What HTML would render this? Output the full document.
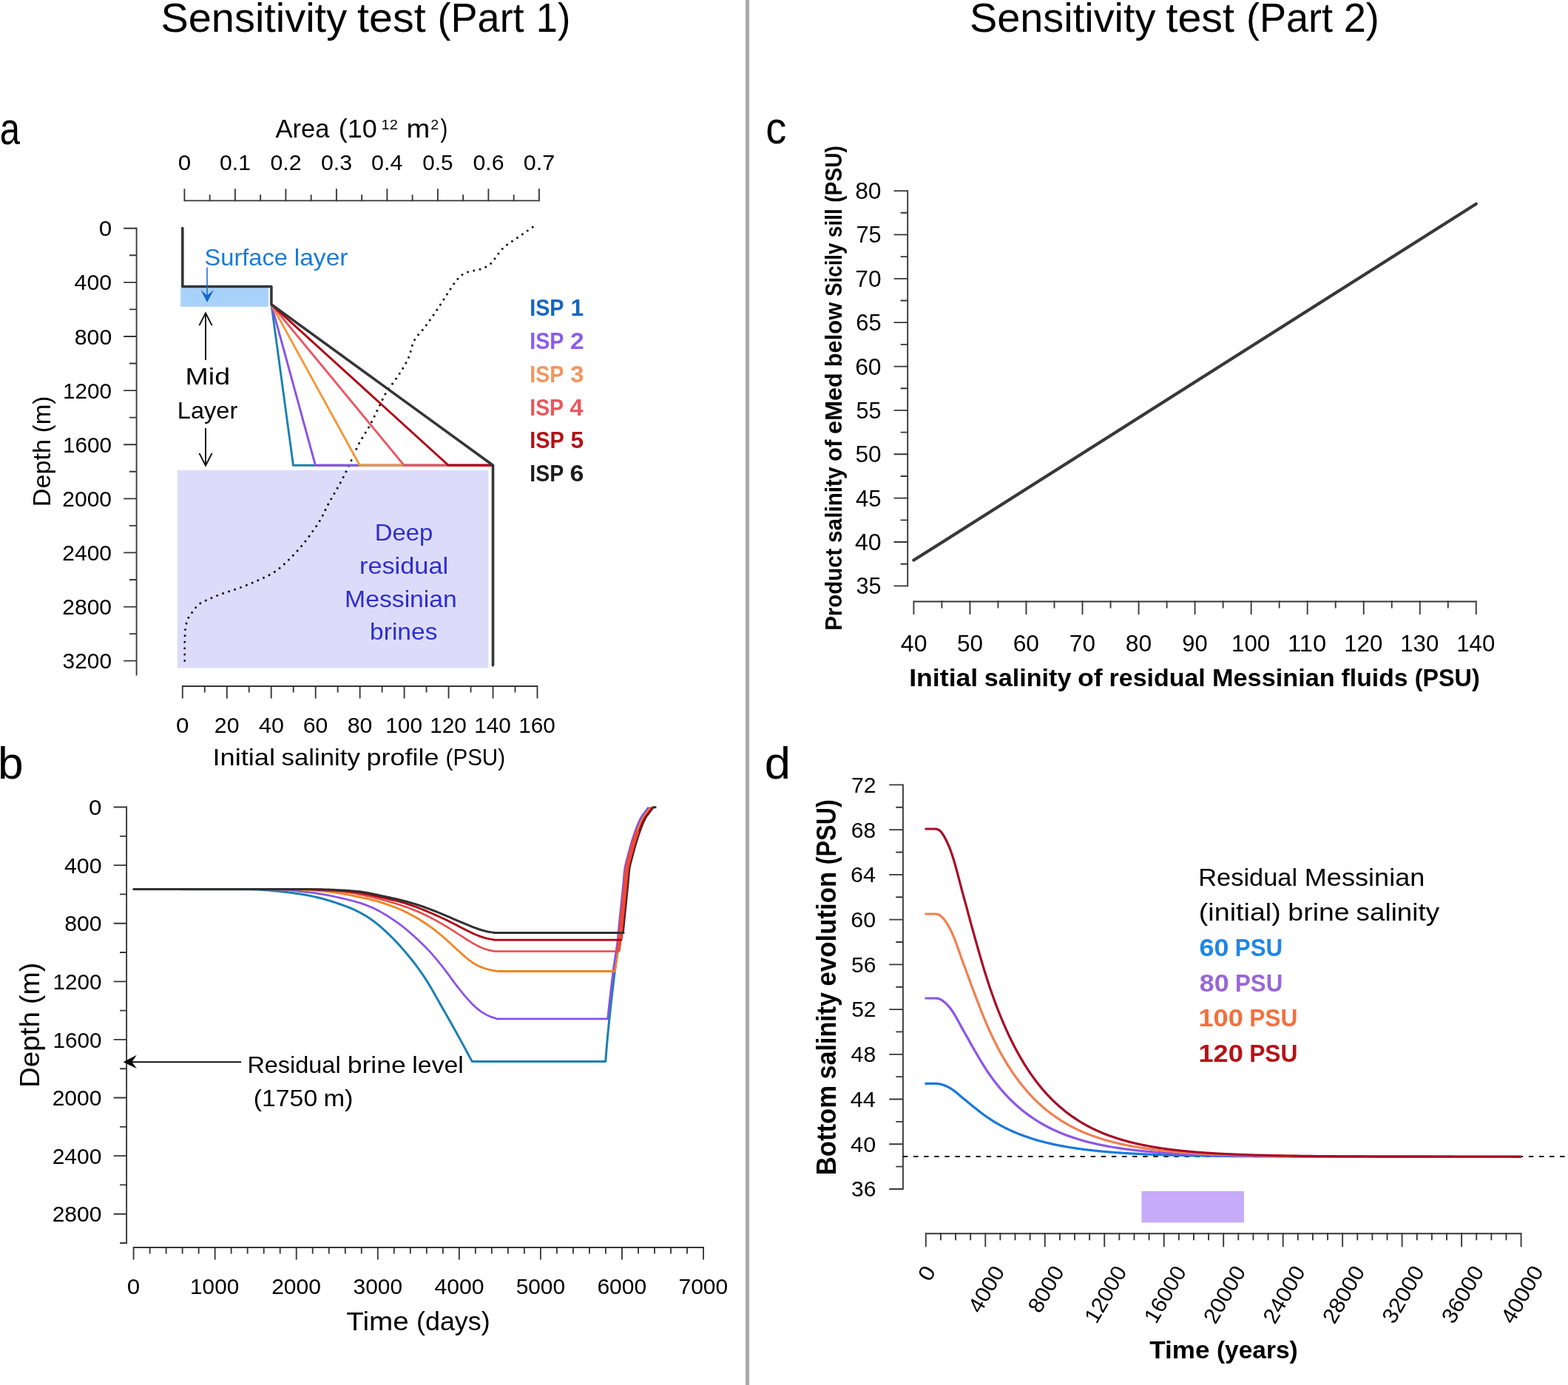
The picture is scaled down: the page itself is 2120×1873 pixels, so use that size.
<!DOCTYPE html>
<html lang="en">
<head>
<meta charset="utf-8">
<title>Sensitivity test</title>
<style>html,body{margin:0;padding:0;background:#fff}svg{display:block}</style>
</head>
<body>
<svg width="2120" height="1873" viewBox="0 0 2120 1873" font-family="'Liberation Sans', sans-serif" role="img" aria-label="Sensitivity test figure">
<rect width="2120" height="1873" fill="#fff"/>
<rect x="1008" y="0" width="5" height="1873" fill="#a9a9a9"/>
<text x="217.48" y="43.4" font-size="56.24" textLength="251.64" lengthAdjust="spacingAndGlyphs" fill="#000">Sensitivity</text>
<text x="483.11" y="43.4" font-size="56.24" textLength="92.48" lengthAdjust="spacingAndGlyphs" fill="#000">test</text>
<text x="591.59" y="43.4" font-size="56.24" textLength="117.06" lengthAdjust="spacingAndGlyphs" fill="#000">(Part</text>
<text x="724.85" y="43.4" font-size="56.24" textLength="46.51" lengthAdjust="spacingAndGlyphs" fill="#000">1)</text>
<text x="1310.88" y="43.4" font-size="56.24" textLength="251.64" lengthAdjust="spacingAndGlyphs" fill="#000">Sensitivity</text>
<text x="1576.51" y="43.4" font-size="56.24" textLength="92.48" lengthAdjust="spacingAndGlyphs" fill="#000">test</text>
<text x="1684.99" y="43.4" font-size="56.24" textLength="117.06" lengthAdjust="spacingAndGlyphs" fill="#000">(Part</text>
<text x="1816.73" y="43.4" font-size="56.24" textLength="48.15" lengthAdjust="spacingAndGlyphs" fill="#000">2)</text>
<text x="-0.21" y="194.6" font-size="61.2" textLength="27.26" lengthAdjust="spacingAndGlyphs" fill="#000">a</text>
<text x="-3.04" y="1053.4" font-size="61.2" textLength="34.61" lengthAdjust="spacingAndGlyphs" fill="#000">b</text>
<text x="1035.27" y="194" font-size="60.52" textLength="28.14" lengthAdjust="spacingAndGlyphs" fill="#000">c</text>
<text x="1033.77" y="1053.2" font-size="61.2" textLength="35.22" lengthAdjust="spacingAndGlyphs" fill="#000">d</text>
<line x1="249.4" y1="271.3" x2="728.9" y2="271.3" stroke="#363636" stroke-width="1.85"/>
<path d="M249.4,272.23L249.4,255.3M283.65,272.23L283.65,263.3M317.9,272.23L317.9,255.3M352.15,272.23L352.15,263.3M386.4,272.23L386.4,255.3M420.65,272.23L420.65,263.3M454.9,272.23L454.9,255.3M489.15,272.23L489.15,263.3M523.4,272.23L523.4,255.3M557.65,272.23L557.65,263.3M591.9,272.23L591.9,255.3M626.15,272.23L626.15,263.3M660.4,272.23L660.4,255.3M694.65,272.23L694.65,263.3M728.9,272.23L728.9,255.3" fill="none" stroke="#363636" stroke-width="1.85"/>
<text x="240.68" y="229.6" font-size="30.01" textLength="17.47" lengthAdjust="spacingAndGlyphs" fill="#000">0</text>
<text x="297.1" y="229.6" font-size="30.01" textLength="41.91" lengthAdjust="spacingAndGlyphs" fill="#000">0.1</text>
<text x="365.51" y="229.6" font-size="30.01" textLength="42.09" lengthAdjust="spacingAndGlyphs" fill="#000">0.2</text>
<text x="433.93" y="229.6" font-size="30.01" textLength="42.1" lengthAdjust="spacingAndGlyphs" fill="#000">0.3</text>
<text x="502.09" y="229.6" font-size="30.01" textLength="42.32" lengthAdjust="spacingAndGlyphs" fill="#000">0.4</text>
<text x="571.28" y="229.6" font-size="30.01" textLength="41.25" lengthAdjust="spacingAndGlyphs" fill="#000">0.5</text>
<text x="639.43" y="229.6" font-size="30.01" textLength="42.1" lengthAdjust="spacingAndGlyphs" fill="#000">0.6</text>
<text x="707.83" y="229.6" font-size="30.01" textLength="42.44" lengthAdjust="spacingAndGlyphs" fill="#000">0.7</text>
<text x="372.53" y="185.8" font-size="35.55" textLength="72.99" lengthAdjust="spacingAndGlyphs" fill="#000">Area</text>
<text x="457.69" y="185.8" font-size="35.55" textLength="52.04" lengthAdjust="spacingAndGlyphs" fill="#000">(10</text>
<text x="515.6" y="175" font-size="18.36" textLength="22.25" lengthAdjust="spacingAndGlyphs" fill="#000">12</text>
<text x="549.62" y="185.8" font-size="35.55" textLength="31.77" lengthAdjust="spacingAndGlyphs" fill="#000">m</text>
<text x="582.22" y="175" font-size="18.36" textLength="10.88" lengthAdjust="spacingAndGlyphs" fill="#000">2</text>
<text x="595.6" y="185.8" font-size="35.55" textLength="9.86" lengthAdjust="spacingAndGlyphs" fill="#000">)</text>
<line x1="184.6" y1="307.77" x2="184.6" y2="913.4" stroke="#363636" stroke-width="1.85"/>
<path d="M184.6,308.7L167.2,308.7M184.6,345.26L175,345.26M184.6,381.82L167.2,381.82M184.6,418.39L175,418.39M184.6,454.95L167.2,454.95M184.6,491.51L175,491.51M184.6,528.07L167.2,528.07M184.6,564.63L175,564.63M184.6,601.2L167.2,601.2M184.6,637.76L175,637.76M184.6,674.32L167.2,674.32M184.6,710.88L175,710.88M184.6,747.44L167.2,747.44M184.6,784.01L175,784.01M184.6,820.57L167.2,820.57M184.6,857.13L175,857.13M184.6,893.69L167.2,893.69" fill="none" stroke="#363636" stroke-width="1.85"/>
<text x="133.72" y="319.3" font-size="30.01" textLength="17.47" lengthAdjust="spacingAndGlyphs" fill="#000">0</text>
<text x="100.6" y="392.42" font-size="30.01" textLength="50.62" lengthAdjust="spacingAndGlyphs" fill="#000">400</text>
<text x="100.82" y="465.55" font-size="30.01" textLength="50.4" lengthAdjust="spacingAndGlyphs" fill="#000">800</text>
<text x="85.03" y="538.67" font-size="30.01" textLength="66.05" lengthAdjust="spacingAndGlyphs" fill="#000">1200</text>
<text x="85.03" y="611.8" font-size="30.01" textLength="66.05" lengthAdjust="spacingAndGlyphs" fill="#000">1600</text>
<text x="84.27" y="684.92" font-size="30.01" textLength="66.82" lengthAdjust="spacingAndGlyphs" fill="#000">2000</text>
<text x="84.27" y="758.04" font-size="30.01" textLength="66.82" lengthAdjust="spacingAndGlyphs" fill="#000">2400</text>
<text x="84.27" y="831.17" font-size="30.01" textLength="66.82" lengthAdjust="spacingAndGlyphs" fill="#000">2800</text>
<text x="84.58" y="904.29" font-size="30.01" textLength="66.51" lengthAdjust="spacingAndGlyphs" fill="#000">3200</text>
<g transform="rotate(-90 67.8 610.1)">
<text x="-7.33" y="610.1" font-size="33.12" textLength="91.11" lengthAdjust="spacingAndGlyphs" fill="#000">Depth</text>
<text x="92.56" y="610.1" font-size="33.12" textLength="49.78" lengthAdjust="spacingAndGlyphs" fill="#000">(m)</text>
</g>
<rect x="244.2" y="387.5" width="118.8" height="27.3" fill="#a9d2fb"/>
<rect x="239.8" y="635.7" width="420.6" height="267.7" fill="#dcdcfa"/>
<path d="M720.2,307.2 L718.56,308.33 L716.91,309.46 L715.27,310.6 L713.63,311.74 L711.99,312.88 L710.36,314.02 L708.72,315.16 L707.09,316.3 L705.45,317.45 L703.82,318.6 L702.19,319.75 L700.53,320.88 L698.86,322 L697.18,323.11 L695.49,324.22 L693.8,325.33 L692.12,326.45 L690.45,327.57 L688.8,328.71 L687.17,329.87 L685.58,331.05 L684.01,332.27 L682.48,333.51 L681,334.79 L679.57,336.11 L678.21,337.52 L676.91,339.02 L675.66,340.6 L674.44,342.23 L673.26,343.9 L672.09,345.59 L670.92,347.28 L669.75,348.96 L668.55,350.61 L667.33,352.21 L666.07,353.75 L664.75,355.2 L663.37,356.55 L661.92,357.79 L660.35,358.94 L658.67,360.04 L656.91,361.06 L655.1,362 L653.28,362.81 L651.45,363.49 L649.55,364.08 L647.6,364.6 L645.62,365.07 L643.6,365.49 L641.58,365.9 L639.55,366.29 L637.55,366.7 L635.57,367.14 L633.63,367.62 L631.76,368.16 L629.95,368.77 L628.23,369.49 L626.57,370.38 L624.96,371.49 L623.39,372.77 L621.88,374.18 L620.42,375.66 L619.02,377.16 L617.68,378.63 L616.42,380.13 L615.21,381.7 L614.06,383.32 L612.94,384.99 L611.84,386.68 L610.75,388.38 L609.66,390.06 L608.55,391.73 L607.43,393.38 L606.33,395.04 L605.23,396.71 L604.15,398.38 L603.06,400.06 L601.98,401.74 L600.91,403.42 L599.83,405.1 L598.76,406.79 L597.69,408.47 L596.61,410.15 L595.54,411.83 L594.45,413.51 L593.37,415.18 L592.27,416.85 L591.17,418.52 L590.06,420.17 L588.94,421.82 L587.82,423.47 L586.69,425.11 L585.55,426.76 L584.42,428.4 L583.27,430.03 L582.12,431.66 L580.97,433.29 L579.81,434.92 L578.65,436.54 L577.48,438.16 L576.3,439.77 L575.12,441.38 L573.94,442.98 L572.72,444.57 L571.44,446.13 L570.1,447.67 L568.74,449.2 L567.37,450.72 L566.01,452.24 L564.69,453.78 L563.42,455.34 L562.23,456.92 L561.14,458.53 L560.16,460.19 L559.32,461.9 L558.58,463.68 L557.93,465.53 L557.34,467.43 L556.79,469.36 L556.26,471.32 L555.75,473.29 L555.23,475.26 L554.69,477.22 L554.1,479.14 L553.45,481.02 L552.73,482.85 L551.96,484.66 L551.13,486.45 L550.27,488.23 L549.37,490 L548.43,491.75 L547.45,493.5 L546.45,495.24 L545.43,496.96 L544.38,498.68 L543.31,500.39 L542.23,502.09 L541.13,503.78 L540.02,505.47 L538.91,507.15 L537.8,508.82 L536.68,510.48 L535.57,512.14 L534.47,513.79 L533.32,515.42 L532.12,517.02 L530.88,518.6 L529.63,520.17 L528.38,521.74 L527.14,523.31 L525.93,524.9 L524.76,526.51 L523.66,528.16 L522.63,529.84 L521.64,531.56 L520.69,533.29 L519.76,535.05 L518.86,536.83 L517.98,538.62 L517.11,540.43 L516.25,542.24 L515.4,544.06 L514.55,545.87 L513.69,547.69 L512.83,549.49 L511.95,551.29 L511.06,553.08 L510.18,554.86 L509.3,556.66 L508.42,558.45 L507.55,560.25 L506.67,562.04 L505.8,563.84 L504.92,565.63 L504.03,567.42 L503.14,569.2 L502.23,570.98 L501.32,572.75 L500.39,574.51 L499.44,576.26 L498.46,578 L497.46,579.73 L496.44,581.44 L495.4,583.15 L494.35,584.85 L493.29,586.55 L492.23,588.25 L491.18,589.94 L490.14,591.65 L489.11,593.36 L488.1,595.08 L487.11,596.81 L486.15,598.55 L485.23,600.31 L484.33,602.09 L483.45,603.87 L482.59,605.67 L481.75,607.47 L480.91,609.29 L480.09,611.1 L479.28,612.93 L478.47,614.76 L477.67,616.59 L476.86,618.42 L476.06,620.25 L475.25,622.08 L474.44,623.9 L473.62,625.72 L472.79,627.54 L471.94,629.35 L471.08,631.15 L470.22,632.95 L469.35,634.74 L468.48,636.54 L467.61,638.33 L466.73,640.13 L465.84,641.92 L464.95,643.7 L464.06,645.49 L463.15,647.27 L462.24,649.04 L461.33,650.81 L460.4,652.58 L459.47,654.34 L458.52,656.1 L457.56,657.84 L456.58,659.58 L455.59,661.31 L454.59,663.04 L453.58,664.76 L452.57,666.48 L451.55,668.21 L450.54,669.93 L449.53,671.65 L448.53,673.38 L447.53,675.1 L446.55,676.84 L445.58,678.58 L444.62,680.33 L443.68,682.09 L442.77,683.87 L441.88,685.66 L441.01,687.45 L440.14,689.26 L439.28,691.06 L438.42,692.87 L437.55,694.67 L436.66,696.45 L435.76,698.23 L434.82,699.99 L433.86,701.72 L432.86,703.44 L431.83,705.14 L430.78,706.83 L429.7,708.51 L428.6,710.18 L427.49,711.84 L426.36,713.49 L425.22,715.14 L424.07,716.77 L422.91,718.4 L421.75,720.03 L420.59,721.65 L419.43,723.27 L418.25,724.88 L417.07,726.49 L415.88,728.1 L414.67,729.69 L413.46,731.28 L412.23,732.85 L410.99,734.42 L409.73,735.97 L408.47,737.5 L407.19,739.03 L405.89,740.54 L404.59,742.05 L403.27,743.55 L401.94,745.04 L400.59,746.52 L399.24,748 L397.87,749.46 L396.49,750.91 L395.11,752.35 L393.71,753.77 L392.29,755.18 L390.87,756.57 L389.44,757.95 L388,759.33 L386.55,760.72 L385.09,762.1 L383.62,763.48 L382.14,764.85 L380.64,766.19 L379.12,767.51 L377.58,768.8 L376.03,770.04 L374.45,771.24 L372.85,772.39 L371.22,773.48 L369.57,774.52 L367.88,775.53 L366.16,776.51 L364.41,777.47 L362.65,778.4 L360.86,779.3 L359.05,780.19 L357.24,781.05 L355.41,781.91 L353.58,782.74 L351.74,783.57 L349.91,784.39 L348.07,785.2 L346.25,786.01 L344.43,786.82 L342.6,787.61 L340.76,788.39 L338.92,789.16 L337.08,789.92 L335.23,790.67 L333.37,791.41 L331.51,792.14 L329.65,792.86 L327.78,793.57 L325.91,794.27 L324.04,794.97 L322.17,795.66 L320.29,796.33 L318.41,796.99 L316.52,797.62 L314.62,798.25 L312.72,798.86 L310.82,799.46 L308.91,800.07 L307.01,800.68 L305.11,801.29 L303.22,801.92 L301.33,802.57 L299.45,803.24 L297.59,803.93 L295.72,804.64 L293.87,805.38 L292.01,806.12 L290.17,806.89 L288.33,807.67 L286.5,808.46 L284.67,809.27 L282.85,810.08 L281.02,810.9 L279.15,811.71 L277.28,812.53 L275.42,813.37 L273.62,814.25 L271.88,815.2 L270.25,816.23 L268.74,817.38 L267.3,818.69 L265.92,820.13 L264.6,821.68 L263.33,823.29 L262.11,824.92 L260.92,826.55 L259.75,828.16 L258.54,829.79 L257.33,831.46 L256.17,833.15 L255.08,834.87 L254.12,836.62 L253.33,838.41 L252.74,840.23 L252.26,842.09 L251.81,844.02 L251.4,845.98 L251.04,847.97 L250.73,849.98 L250.48,851.99 L250.29,854 L250.18,855.99 L250.1,857.98 L250.02,859.96 L249.95,861.96 L249.89,863.95 L249.84,865.95 L249.79,867.95 L249.75,869.95 L249.73,871.95 L249.71,873.95 L249.7,875.94 L249.7,877.94 L249.7,879.93 L249.7,881.93 L249.7,883.92 L249.7,885.92 L249.7,887.91 L249.7,889.91 L249.7,891.9 L249.7,893.9" fill="none" stroke="#111" stroke-width="3" stroke-linecap="round" stroke-linejoin="round" stroke-dasharray="0.01 8.4"/>
<path d="M366.9,411.6 L396.48,629.3 L666.4,629.3" fill="none" stroke="#1b7fb3" stroke-width="2.9" stroke-linejoin="miter"/>
<path d="M366.9,411.6 L426.45,629.3 L666.4,629.3" fill="none" stroke="#8a50e6" stroke-width="2.9" stroke-linejoin="miter"/>
<path d="M366.9,411.6 L486.4,629.3 L666.4,629.3" fill="none" stroke="#f4983a" stroke-width="2.9" stroke-linejoin="miter"/>
<path d="M366.9,411.6 L546.35,629.3 L666.4,629.3" fill="none" stroke="#ea5560" stroke-width="2.9" stroke-linejoin="miter"/>
<path d="M366.9,411.6 L606.3,629.3 L666.4,629.3" fill="none" stroke="#b00012" stroke-width="2.9" stroke-linejoin="miter"/>
<path d="M246.8,308.6 L246.8,387.5 L366.9,387.5 L366.9,411.6 L666.5,629.3 L666.5,899.8" fill="none" stroke="#353535" stroke-width="3.6" stroke-linejoin="round" stroke-linecap="round"/>
<text x="276.53" y="359.2" font-size="31.81" textLength="112.43" lengthAdjust="spacingAndGlyphs" fill="#1a7ad9">Surface</text>
<text x="397.68" y="359.2" font-size="31.81" textLength="72.9" lengthAdjust="spacingAndGlyphs" fill="#1a7ad9">layer</text>
<line x1="280" y1="361.5" x2="280" y2="400" stroke="#1668c6" stroke-width="1.5"/>
<path d="M271.5,391.9 L280,408.9 L289,391.9 L280,399.6 Z" fill="#1366cc"/>
<text x="250.6" y="520" font-size="31.81" textLength="60.39" lengthAdjust="spacingAndGlyphs" fill="#000">Mid</text>
<text x="239.8" y="566" font-size="31.81" textLength="81.44" lengthAdjust="spacingAndGlyphs" fill="#000">Layer</text>
<line x1="278" y1="424" x2="278" y2="486.9" stroke="#111" stroke-width="1.9"/>
<path d="M269.4,440.1 L278,423.4 L286.6,440.1" fill="none" stroke="#111" stroke-width="2"/>
<line x1="278" y1="578.9" x2="278" y2="629" stroke="#111" stroke-width="1.9"/>
<path d="M269.4,612.9 L278,629.6 L286.6,612.9" fill="none" stroke="#111" stroke-width="2"/>
<text x="716.23" y="427.3" font-size="31.63" textLength="46.25" lengthAdjust="spacingAndGlyphs" fill="#1565c0" font-weight="bold">ISP</text>
<text x="771.44" y="427.3" font-size="31.63" textLength="17.7" lengthAdjust="spacingAndGlyphs" fill="#1565c0" font-weight="bold">1</text>
<text x="716.23" y="472.05" font-size="31.63" textLength="46.25" lengthAdjust="spacingAndGlyphs" fill="#8b5cf0" font-weight="bold">ISP</text>
<text x="771.04" y="472.05" font-size="31.63" textLength="18.65" lengthAdjust="spacingAndGlyphs" fill="#8b5cf0" font-weight="bold">2</text>
<text x="716.24" y="516.8" font-size="31.63" textLength="46.01" lengthAdjust="spacingAndGlyphs" fill="#f2955e" font-weight="bold">ISP</text>
<text x="771.3" y="516.8" font-size="31.63" textLength="18.2" lengthAdjust="spacingAndGlyphs" fill="#f2955e" font-weight="bold">3</text>
<text x="716.25" y="561.55" font-size="31.63" textLength="45.77" lengthAdjust="spacingAndGlyphs" fill="#e9585c" font-weight="bold">ISP</text>
<text x="770.25" y="561.55" font-size="31.63" textLength="18.27" lengthAdjust="spacingAndGlyphs" fill="#e9585c" font-weight="bold">4</text>
<text x="716.22" y="606.3" font-size="31.63" textLength="46.62" lengthAdjust="spacingAndGlyphs" fill="#b50f16" font-weight="bold">ISP</text>
<text x="771.51" y="606.3" font-size="31.63" textLength="17.63" lengthAdjust="spacingAndGlyphs" fill="#b50f16" font-weight="bold">5</text>
<text x="716.25" y="651.05" font-size="31.63" textLength="45.89" lengthAdjust="spacingAndGlyphs" fill="#1c1c1c" font-weight="bold">ISP</text>
<text x="770.6" y="651.05" font-size="31.63" textLength="18.94" lengthAdjust="spacingAndGlyphs" fill="#1c1c1c" font-weight="bold">6</text>
<text x="506.67" y="730.6" font-size="31.81" textLength="78.57" lengthAdjust="spacingAndGlyphs" fill="#2d2dcc">Deep</text>
<text x="485.97" y="775.55" font-size="31.81" textLength="120.13" lengthAdjust="spacingAndGlyphs" fill="#2d2dcc">residual</text>
<text x="466.1" y="820.5" font-size="31.81" textLength="151.76" lengthAdjust="spacingAndGlyphs" fill="#2d2dcc">Messinian</text>
<text x="500.12" y="865.45" font-size="31.81" textLength="91.31" lengthAdjust="spacingAndGlyphs" fill="#2d2dcc">brines</text>
<line x1="246.8" y1="928" x2="726.48" y2="928" stroke="#363636" stroke-width="1.85"/>
<path d="M246.8,927.08L246.8,944.6M276.78,927.08L276.78,936.5M306.76,927.08L306.76,944.6M336.74,927.08L336.74,936.5M366.72,927.08L366.72,944.6M396.7,927.08L396.7,936.5M426.68,927.08L426.68,944.6M456.66,927.08L456.66,936.5M486.64,927.08L486.64,944.6M516.62,927.08L516.62,936.5M546.6,927.08L546.6,944.6M576.58,927.08L576.58,936.5M606.56,927.08L606.56,944.6M636.54,927.08L636.54,936.5M666.52,927.08L666.52,944.6M696.5,927.08L696.5,936.5M726.48,927.08L726.48,944.6" fill="none" stroke="#363636" stroke-width="1.85"/>
<text x="238.08" y="991" font-size="30.01" textLength="17.47" lengthAdjust="spacingAndGlyphs" fill="#000">0</text>
<text x="289.83" y="991" font-size="30.01" textLength="33.62" lengthAdjust="spacingAndGlyphs" fill="#000">20</text>
<text x="350.05" y="991" font-size="30.01" textLength="33.87" lengthAdjust="spacingAndGlyphs" fill="#000">40</text>
<text x="409.75" y="991" font-size="30.01" textLength="33.62" lengthAdjust="spacingAndGlyphs" fill="#000">60</text>
<text x="469.78" y="991" font-size="30.01" textLength="33.64" lengthAdjust="spacingAndGlyphs" fill="#000">80</text>
<text x="521.33" y="991" font-size="30.01" textLength="49.61" lengthAdjust="spacingAndGlyphs" fill="#000">100</text>
<text x="581.29" y="991" font-size="30.01" textLength="49.61" lengthAdjust="spacingAndGlyphs" fill="#000">120</text>
<text x="641.25" y="991" font-size="30.01" textLength="49.61" lengthAdjust="spacingAndGlyphs" fill="#000">140</text>
<text x="701.21" y="991" font-size="30.01" textLength="49.61" lengthAdjust="spacingAndGlyphs" fill="#000">160</text>
<text x="287.44" y="1034.8" font-size="31.72" textLength="84.57" lengthAdjust="spacingAndGlyphs" fill="#000">Initial</text>
<text x="380.63" y="1034.8" font-size="31.72" textLength="106.2" lengthAdjust="spacingAndGlyphs" fill="#000">salinity</text>
<text x="495.49" y="1034.8" font-size="31.72" textLength="97.9" lengthAdjust="spacingAndGlyphs" fill="#000">profile</text>
<text x="602.56" y="1034.8" font-size="31.72" textLength="80.55" lengthAdjust="spacingAndGlyphs" fill="#000">(PSU)</text>
<line x1="171.1" y1="1090.58" x2="171.1" y2="1681.92" stroke="#363636" stroke-width="1.85"/>
<path d="M171.1,1091.5L153.7,1091.5M171.1,1130.8L162.1,1130.8M171.1,1170.1L153.7,1170.1M171.1,1209.4L162.1,1209.4M171.1,1248.7L153.7,1248.7M171.1,1288L162.1,1288M171.1,1327.3L153.7,1327.3M171.1,1366.6L162.1,1366.6M171.1,1405.9L153.7,1405.9M171.1,1445.2L162.1,1445.2M171.1,1484.5L153.7,1484.5M171.1,1523.8L162.1,1523.8M171.1,1563.1L153.7,1563.1M171.1,1602.4L162.1,1602.4M171.1,1641.7L153.7,1641.7M171.1,1681L162.1,1681" fill="none" stroke="#363636" stroke-width="1.85"/>
<text x="120.12" y="1102.1" font-size="30.01" textLength="17.47" lengthAdjust="spacingAndGlyphs" fill="#000">0</text>
<text x="87" y="1180.7" font-size="30.01" textLength="50.62" lengthAdjust="spacingAndGlyphs" fill="#000">400</text>
<text x="87.22" y="1259.3" font-size="30.01" textLength="50.4" lengthAdjust="spacingAndGlyphs" fill="#000">800</text>
<text x="71.43" y="1337.9" font-size="30.01" textLength="66.05" lengthAdjust="spacingAndGlyphs" fill="#000">1200</text>
<text x="71.43" y="1416.5" font-size="30.01" textLength="66.05" lengthAdjust="spacingAndGlyphs" fill="#000">1600</text>
<text x="70.67" y="1495.1" font-size="30.01" textLength="66.82" lengthAdjust="spacingAndGlyphs" fill="#000">2000</text>
<text x="70.67" y="1573.7" font-size="30.01" textLength="66.82" lengthAdjust="spacingAndGlyphs" fill="#000">2400</text>
<text x="70.67" y="1652.3" font-size="30.01" textLength="66.82" lengthAdjust="spacingAndGlyphs" fill="#000">2800</text>
<g transform="rotate(-90 53.2 1386)">
<text x="-31.88" y="1386" font-size="37.08" textLength="103.18" lengthAdjust="spacingAndGlyphs" fill="#000">Depth</text>
<text x="81.24" y="1386" font-size="37.08" textLength="56.37" lengthAdjust="spacingAndGlyphs" fill="#000">(m)</text>
</g>
<line x1="180.6" y1="1687" x2="951.02" y2="1687" stroke="#363636" stroke-width="1.85"/>
<path d="M180.6,1686.08L180.6,1703.4M202.61,1686.08L202.61,1695.6M224.62,1686.08L224.62,1695.6M246.64,1686.08L246.64,1695.6M268.65,1686.08L268.65,1695.6M290.66,1686.08L290.66,1703.4M312.67,1686.08L312.67,1695.6M334.68,1686.08L334.68,1695.6M356.7,1686.08L356.7,1695.6M378.71,1686.08L378.71,1695.6M400.72,1686.08L400.72,1703.4M422.73,1686.08L422.73,1695.6M444.74,1686.08L444.74,1695.6M466.76,1686.08L466.76,1695.6M488.77,1686.08L488.77,1695.6M510.78,1686.08L510.78,1703.4M532.79,1686.08L532.79,1695.6M554.8,1686.08L554.8,1695.6M576.82,1686.08L576.82,1695.6M598.83,1686.08L598.83,1695.6M620.84,1686.08L620.84,1703.4M642.85,1686.08L642.85,1695.6M664.86,1686.08L664.86,1695.6M686.88,1686.08L686.88,1695.6M708.89,1686.08L708.89,1695.6M730.9,1686.08L730.9,1703.4M752.91,1686.08L752.91,1695.6M774.92,1686.08L774.92,1695.6M796.94,1686.08L796.94,1695.6M818.95,1686.08L818.95,1695.6M840.96,1686.08L840.96,1703.4M862.97,1686.08L862.97,1695.6M884.98,1686.08L884.98,1695.6M907,1686.08L907,1695.6M929.01,1686.08L929.01,1695.6M951.02,1686.08L951.02,1703.4" fill="none" stroke="#363636" stroke-width="1.85"/>
<text x="171.88" y="1749.7" font-size="30.01" textLength="17.47" lengthAdjust="spacingAndGlyphs" fill="#000">0</text>
<text x="257.11" y="1749.7" font-size="30.01" textLength="66.05" lengthAdjust="spacingAndGlyphs" fill="#000">1000</text>
<text x="367.16" y="1749.7" font-size="30.01" textLength="66.82" lengthAdjust="spacingAndGlyphs" fill="#000">2000</text>
<text x="477.52" y="1749.7" font-size="30.01" textLength="66.51" lengthAdjust="spacingAndGlyphs" fill="#000">3000</text>
<text x="587.53" y="1749.7" font-size="30.01" textLength="67.06" lengthAdjust="spacingAndGlyphs" fill="#000">4000</text>
<text x="697.64" y="1749.7" font-size="30.01" textLength="66.51" lengthAdjust="spacingAndGlyphs" fill="#000">5000</text>
<text x="807.4" y="1749.7" font-size="30.01" textLength="66.82" lengthAdjust="spacingAndGlyphs" fill="#000">6000</text>
<text x="917.54" y="1749.7" font-size="30.01" textLength="66.65" lengthAdjust="spacingAndGlyphs" fill="#000">7000</text>
<text x="468.23" y="1798.5" font-size="35.65" textLength="84.55" lengthAdjust="spacingAndGlyphs" fill="#000">Time</text>
<text x="563.04" y="1798.5" font-size="35.65" textLength="99.6" lengthAdjust="spacingAndGlyphs" fill="#000">(days)</text>
<line x1="326.2" y1="1436.2" x2="176" y2="1436.2" stroke="#111" stroke-width="1.9"/>
<path d="M166.6,1436.2 L184.8,1426.8 L178.4,1436.2 L184.8,1445 Z" fill="#0a0a0a"/>
<text x="334.41" y="1451.1" font-size="31.81" textLength="126.2" lengthAdjust="spacingAndGlyphs" fill="#000">Residual</text>
<text x="469.69" y="1451.1" font-size="31.81" textLength="79.01" lengthAdjust="spacingAndGlyphs" fill="#000">brine</text>
<text x="557.32" y="1451.1" font-size="31.81" textLength="69.55" lengthAdjust="spacingAndGlyphs" fill="#000">level</text>
<text x="342.77" y="1495.7" font-size="31.81" textLength="86.43" lengthAdjust="spacingAndGlyphs" fill="#000">(1750</text>
<text x="437.49" y="1495.7" font-size="31.81" textLength="40.04" lengthAdjust="spacingAndGlyphs" fill="#000">m)</text>
<path d="M818.73,1436.1 L818.8,1434.6 L818.95,1432.6 L819.1,1430.6 L819.26,1428.6 L819.41,1426.6 L819.57,1424.6 L819.73,1422.6 L819.9,1420.6 L820.06,1418.6 L820.23,1416.6 L820.4,1414.6 L820.58,1412.6 L820.75,1410.6 L820.93,1408.6 L821.11,1406.6 L821.29,1404.6 L821.47,1402.6 L821.66,1400.6 L821.84,1398.6 L822.03,1396.6 L822.22,1394.6 L822.42,1392.6 L822.61,1390.6 L822.81,1388.6 L823.01,1386.6 L823.21,1384.6 L823.41,1382.6 L823.62,1380.6 L823.82,1378.6 L824.03,1376.6 L824.24,1374.6 L824.45,1372.6 L824.66,1370.6 L824.88,1368.6 L825.09,1366.6 L825.31,1364.6 L825.53,1362.6 L825.75,1360.6 L825.97,1358.6 L826.19,1356.6 L826.41,1354.6 L826.64,1352.6 L826.86,1350.6 L827.09,1348.6 L827.32,1346.6 L827.55,1344.6 L827.78,1342.6 L828.01,1340.6 L828.25,1338.6 L828.48,1336.6 L828.72,1334.6 L828.95,1332.6 L829.19,1330.6 L829.43,1328.6 L829.67,1326.6 L829.91,1324.6 L830.15,1322.6 L830.39,1320.6 L830.63,1318.6 L830.88,1316.6 L831.12,1314.6 L831.38,1312.6 L831.66,1310.6 L831.94,1308.6 L832.22,1306.6 L832.52,1304.6 L832.82,1302.6 L833.13,1300.6 L833.43,1298.6 L833.75,1296.6 L834.06,1294.6 L834.37,1292.6 L834.68,1290.6 L834.99,1288.6 L835.29,1286.6 L835.59,1284.6 L835.88,1282.6 L836.17,1280.6 L836.44,1278.6 L836.71,1276.6 L836.96,1274.6 L837.2,1272.6 L837.43,1270.6 L837.65,1268.6 L837.84,1266.6 L838.03,1264.6 L838.21,1262.6 L838.39,1260.6 L838.57,1258.6 L838.76,1256.6 L838.96,1254.6 L839.15,1252.6 L839.35,1250.6 L839.55,1248.6 L839.74,1246.6 L839.94,1244.6 L840.14,1242.6 L840.35,1240.6 L840.55,1238.6 L840.75,1236.6 L840.95,1234.6 L841.16,1232.6 L841.37,1230.6 L841.58,1228.6 L841.79,1226.6 L842,1224.6 L842.21,1222.6 L842.42,1220.6 L842.63,1218.6 L842.83,1216.6 L843.04,1214.6 L843.24,1212.6 L843.44,1210.6 L843.64,1208.6 L843.84,1206.6 L844.04,1204.6 L844.24,1202.6 L844.44,1200.6 L844.63,1198.6 L844.83,1196.6 L845.03,1194.6 L845.22,1192.6 L845.41,1190.6 L845.59,1188.6 L845.76,1186.6 L845.93,1184.6 L846.1,1182.6 L846.28,1180.6 L846.49,1178.6 L846.72,1176.6 L846.99,1174.6 L847.32,1172.6 L847.73,1170.6 L848.19,1168.6 L848.68,1166.6 L849.21,1164.6 L849.75,1162.6 L850.28,1160.6 L850.8,1158.6 L851.31,1156.6 L851.83,1154.6 L852.36,1152.6 L852.89,1150.6 L853.44,1148.6 L853.99,1146.6 L854.56,1144.6 L855.14,1142.6 L855.73,1140.6 L856.33,1138.6 L856.94,1136.6 L857.57,1134.6 L858.21,1132.6 L858.87,1130.6 L859.54,1128.6 L860.23,1126.6 L860.94,1124.6 L861.68,1122.6 L862.43,1120.6 L863.18,1118.6 L863.94,1116.6 L864.74,1114.6 L865.57,1112.6 L866.46,1110.6 L867.41,1108.6 L868.45,1106.6 L869.62,1104.6 L870.98,1102.6 L872.45,1100.6 L873.98,1098.6 L875.49,1096.6 L876.95,1094.6 L878.41,1092.6 L879,1091.8" fill="none" stroke="#1b7fb3" stroke-width="3" stroke-linejoin="round" stroke-linecap="butt"/>
<path d="M842.3,1262 L842.39,1260.5 L842.58,1258.5 L842.77,1256.5 L842.97,1254.5 L843.16,1252.5 L843.36,1250.5 L843.56,1248.5 L843.75,1246.5 L843.95,1244.5 L844.15,1242.5 L844.36,1240.5 L844.56,1238.5 L844.76,1236.5 L844.96,1234.5 L845.17,1232.5 L845.38,1230.5 L845.59,1228.5 L845.8,1226.5 L846.01,1224.5 L846.22,1222.5 L846.43,1220.5 L846.64,1218.5 L846.84,1216.5 L847.05,1214.5 L847.25,1212.5 L847.45,1210.5 L847.65,1208.5 L847.85,1206.5 L848.05,1204.5 L848.25,1202.5 L848.45,1200.5 L848.64,1198.5 L848.84,1196.5 L849.04,1194.5 L849.23,1192.5 L849.42,1190.5 L849.6,1188.5 L849.77,1186.5 L849.93,1184.5 L850.11,1182.5 L850.29,1180.5 L850.5,1178.5 L850.73,1176.5 L851,1174.5 L851.34,1172.5 L851.75,1170.5 L852.21,1168.5 L852.71,1166.5 L853.24,1164.5 L853.77,1162.5 L854.31,1160.5 L854.83,1158.5 L855.34,1156.5 L855.86,1154.5 L856.38,1152.5 L856.92,1150.5 L857.47,1148.5 L858.02,1146.5 L858.59,1144.5 L859.17,1142.5 L859.76,1140.5 L860.36,1138.5 L860.98,1136.5 L861.6,1134.5 L862.24,1132.5 L862.9,1130.5 L863.57,1128.5 L864.27,1126.5 L864.98,1124.5 L865.71,1122.5 L866.46,1120.5 L867.22,1118.5 L867.98,1116.5 L868.78,1114.5 L869.62,1112.5 L870.51,1110.5 L871.46,1108.5 L872.5,1106.5 L873.69,1104.5 L875.05,1102.5 L876.53,1100.5 L878.05,1098.5 L879.57,1096.5 L881.02,1094.5 L882.49,1092.5 L883,1091.8 L887.4,1091.8" fill="none" stroke="#303030" stroke-width="3" stroke-linejoin="round" stroke-linecap="butt"/>
<path d="M839.97,1271.7 L840.08,1270.2 L840.29,1268.2 L840.48,1266.2 L840.66,1264.2 L840.84,1262.2 L841.02,1260.2 L841.21,1258.2 L841.4,1256.2 L841.6,1254.2 L841.79,1252.2 L841.99,1250.2 L842.19,1248.2 L842.38,1246.2 L842.58,1244.2 L842.78,1242.2 L842.99,1240.2 L843.19,1238.2 L843.39,1236.2 L843.59,1234.2 L843.8,1232.2 L844.01,1230.2 L844.22,1228.2 L844.43,1226.2 L844.64,1224.2 L844.85,1222.2 L845.06,1220.2 L845.27,1218.2 L845.48,1216.2 L845.68,1214.2 L845.88,1212.2 L846.08,1210.2 L846.28,1208.2 L846.48,1206.2 L846.68,1204.2 L846.88,1202.2 L847.08,1200.2 L847.27,1198.2 L847.47,1196.2 L847.67,1194.2 L847.86,1192.2 L848.05,1190.2 L848.23,1188.2 L848.39,1186.2 L848.56,1184.2 L848.73,1182.2 L848.92,1180.2 L849.13,1178.2 L849.37,1176.2 L849.65,1174.2 L850,1172.2 L850.42,1170.2 L850.88,1168.2 L851.39,1166.2 L851.92,1164.2 L852.45,1162.2 L852.99,1160.2 L853.5,1158.2 L854.01,1156.2 L854.53,1154.2 L855.06,1152.2 L855.6,1150.2 L856.15,1148.2 L856.71,1146.2 L857.28,1144.2 L857.86,1142.2 L858.45,1140.2 L859.05,1138.2 L859.67,1136.2 L860.3,1134.2 L860.94,1132.2 L861.6,1130.2 L862.28,1128.2 L862.97,1126.2 L863.69,1124.2 L864.42,1122.2 L865.18,1120.2 L865.93,1118.2 L866.7,1116.2 L867.5,1114.2 L868.35,1112.2 L869.25,1110.2 L870.21,1108.2 L871.26,1106.2 L872.48,1104.2 L873.87,1102.2 L875.35,1100.2 L876.88,1098.2 L878.39,1096.2 L879.84,1094.2 L881.31,1092.2 L881.6,1091.8" fill="none" stroke="#b00012" stroke-width="2.8" stroke-linejoin="round" stroke-linecap="butt"/>
<path d="M831.27,1314 L831.4,1312.5 L831.67,1310.5 L831.95,1308.5 L832.24,1306.5 L832.53,1304.5 L832.84,1302.5 L833.14,1300.5 L833.45,1298.5 L833.76,1296.5 L834.07,1294.5 L834.38,1292.5 L834.69,1290.5 L835,1288.5 L835.3,1286.5 L835.6,1284.5 L835.89,1282.5 L836.18,1280.5 L836.45,1278.5 L836.72,1276.5 L836.97,1274.5 L837.22,1272.5 L837.45,1270.5 L837.66,1268.5 L837.85,1266.5 L838.04,1264.5 L838.22,1262.5 L838.39,1260.5 L838.58,1258.5 L838.77,1256.5 L838.97,1254.5 L839.16,1252.5 L839.36,1250.5 L839.56,1248.5 L839.75,1246.5 L839.95,1244.5 L840.15,1242.5 L840.36,1240.5 L840.56,1238.5 L840.76,1236.5 L840.96,1234.5 L841.17,1232.5 L841.38,1230.5 L841.59,1228.5 L841.8,1226.5 L842.01,1224.5 L842.22,1222.5 L842.43,1220.5 L842.64,1218.5 L842.84,1216.5 L843.05,1214.5 L843.25,1212.5 L843.45,1210.5 L843.65,1208.5 L843.85,1206.5 L844.05,1204.5 L844.25,1202.5 L844.45,1200.5 L844.64,1198.5 L844.84,1196.5 L845.04,1194.5 L845.23,1192.5 L845.42,1190.5 L845.6,1188.5 L845.77,1186.5 L845.93,1184.5 L846.11,1182.5 L846.29,1180.5 L846.5,1178.5 L846.73,1176.5 L847,1174.5 L847.34,1172.5 L847.75,1170.5 L848.21,1168.5 L848.71,1166.5 L849.24,1164.5 L849.77,1162.5 L850.31,1160.5 L850.83,1158.5 L851.34,1156.5 L851.86,1154.5 L852.38,1152.5 L852.92,1150.5 L853.47,1148.5 L854.02,1146.5 L854.59,1144.5 L855.17,1142.5 L855.76,1140.5 L856.36,1138.5 L856.98,1136.5 L857.6,1134.5 L858.24,1132.5 L858.9,1130.5 L859.57,1128.5 L860.27,1126.5 L860.98,1124.5 L861.71,1122.5 L862.46,1120.5 L863.22,1118.5 L863.98,1116.5 L864.78,1114.5 L865.62,1112.5 L866.51,1110.5 L867.46,1108.5 L868.5,1106.5 L869.69,1104.5 L871.05,1102.5 L872.53,1100.5 L874.05,1098.5 L875.57,1096.5 L877.02,1094.5 L878.49,1092.5 L879,1091.8" fill="none" stroke="#f0861e" stroke-width="2.8" stroke-linejoin="round" stroke-linecap="butt"/>
<path d="M821.6,1378.3 L821.71,1376.8 L821.92,1374.8 L822.13,1372.8 L822.34,1370.8 L822.55,1368.8 L822.77,1366.8 L822.99,1364.8 L823.2,1362.8 L823.42,1360.8 L823.64,1358.8 L823.87,1356.8 L824.09,1354.8 L824.32,1352.8 L824.54,1350.8 L824.77,1348.8 L825,1346.8 L825.23,1344.8 L825.46,1342.8 L825.69,1340.8 L825.92,1338.8 L826.16,1336.8 L826.39,1334.8 L826.63,1332.8 L826.87,1330.8 L827.1,1328.8 L827.34,1326.8 L827.58,1324.8 L827.82,1322.8 L828.07,1320.8 L828.31,1318.8 L828.55,1316.8 L828.8,1314.8 L829.06,1312.8 L829.33,1310.8 L829.61,1308.8 L829.89,1306.8 L830.19,1304.8 L830.49,1302.8 L830.79,1300.8 L831.1,1298.8 L831.41,1296.8 L831.73,1294.8 L832.04,1292.8 L832.35,1290.8 L832.66,1288.8 L832.96,1286.8 L833.26,1284.8 L833.55,1282.8 L833.84,1280.8 L834.11,1278.8 L834.38,1276.8 L834.64,1274.8 L834.88,1272.8 L835.11,1270.8 L835.33,1268.8 L835.52,1266.8 L835.71,1264.8 L835.89,1262.8 L836.07,1260.8 L836.25,1258.8 L836.44,1256.8 L836.64,1254.8 L836.83,1252.8 L837.03,1250.8 L837.23,1248.8 L837.43,1246.8 L837.62,1244.8 L837.82,1242.8 L838.02,1240.8 L838.23,1238.8 L838.43,1236.8 L838.63,1234.8 L838.84,1232.8 L839.05,1230.8 L839.26,1228.8 L839.47,1226.8 L839.68,1224.8 L839.89,1222.8 L840.1,1220.8 L840.31,1218.8 L840.51,1216.8 L840.72,1214.8 L840.92,1212.8 L841.12,1210.8 L841.32,1208.8 L841.52,1206.8 L841.72,1204.8 L841.92,1202.8 L842.12,1200.8 L842.31,1198.8 L842.51,1196.8 L842.71,1194.8 L842.9,1192.8 L843.1,1190.8 L843.27,1188.8 L843.44,1186.8 L843.61,1184.8 L843.78,1182.8 L843.96,1180.8 L844.16,1178.8 L844.39,1176.8 L844.66,1174.8 L844.99,1172.8 L845.38,1170.8 L845.84,1168.8 L846.33,1166.8 L846.86,1164.8 L847.39,1162.8 L847.93,1160.8 L848.45,1158.8 L848.96,1156.8 L849.48,1154.8 L850,1152.8 L850.54,1150.8 L851.08,1148.8 L851.64,1146.8 L852.2,1144.8 L852.78,1142.8 L853.37,1140.8 L853.97,1138.8 L854.58,1136.8 L855.21,1134.8 L855.85,1132.8 L856.5,1130.8 L857.17,1128.8 L857.86,1126.8 L858.57,1124.8 L859.3,1122.8 L860.05,1120.8 L860.8,1118.8 L861.57,1116.8 L862.36,1114.8 L863.19,1112.8 L864.07,1110.8 L865.02,1108.8 L866.04,1106.8 L867.2,1104.8 L868.54,1102.8 L870,1100.8 L871.52,1098.8 L873.04,1096.8 L874.51,1094.8 L875.97,1092.8 L876.7,1091.8" fill="none" stroke="#8a50e6" stroke-width="2.7" stroke-linejoin="round" stroke-linecap="butt"/>
<path d="M835.9,1287 L836.05,1285.5 L836.35,1283.5 L836.64,1281.5 L836.92,1279.5 L837.19,1277.5 L837.45,1275.5 L837.7,1273.5 L837.93,1271.5 L838.15,1269.5 L838.36,1267.5 L838.55,1265.5 L838.73,1263.5 L838.9,1261.5 L839.09,1259.5 L839.28,1257.5 L839.47,1255.5 L839.67,1253.5 L839.86,1251.5 L840.06,1249.5 L840.26,1247.5 L840.45,1245.5 L840.65,1243.5 L840.85,1241.5 L841.06,1239.5 L841.26,1237.5 L841.46,1235.5 L841.67,1233.5 L841.87,1231.5 L842.08,1229.5 L842.29,1227.5 L842.5,1225.5 L842.71,1223.5 L842.92,1221.5 L843.13,1219.5 L843.34,1217.5 L843.55,1215.5 L843.75,1213.5 L843.95,1211.5 L844.15,1209.5 L844.35,1207.5 L844.55,1205.5 L844.75,1203.5 L844.95,1201.5 L845.15,1199.5 L845.34,1197.5 L845.54,1195.5 L845.73,1193.5 L845.93,1191.5 L846.11,1189.5 L846.28,1187.5 L846.45,1185.5 L846.62,1183.5 L846.8,1181.5 L846.99,1179.5 L847.21,1177.5 L847.46,1175.5 L847.76,1173.5 L848.14,1171.5 L848.57,1169.5 L849.06,1167.5 L849.57,1165.5 L850.1,1163.5 L850.64,1161.5 L851.17,1159.5 L851.68,1157.5 L852.19,1155.5 L852.72,1153.5 L853.25,1151.5 L853.79,1149.5 L854.34,1147.5 L854.9,1145.5 L855.48,1143.5 L856.06,1141.5 L856.66,1139.5 L857.27,1137.5 L857.89,1135.5 L858.52,1133.5 L859.17,1131.5 L859.83,1129.5 L860.52,1127.5 L861.22,1125.5 L861.94,1123.5" fill="none" stroke="#ee4a33" stroke-width="5.2" stroke-linejoin="round" stroke-linecap="butt"/>
<path d="M180.7,1202.6 L183.7,1202.6 L186.7,1202.6 L189.7,1202.6 L192.7,1202.6 L195.7,1202.6 L198.7,1202.6 L201.7,1202.6 L204.7,1202.6 L207.7,1202.6 L210.7,1202.61 L213.7,1202.61 L216.7,1202.61 L219.7,1202.61 L222.7,1202.61 L225.7,1202.61 L228.7,1202.61 L231.7,1202.62 L234.7,1202.62 L237.7,1202.62 L240.7,1202.62 L243.7,1202.62 L246.7,1202.63 L249.7,1202.63 L252.7,1202.63 L255.7,1202.64 L258.7,1202.64 L261.7,1202.64 L264.7,1202.65 L267.7,1202.65 L270.7,1202.65 L273.7,1202.66 L276.7,1202.66 L279.7,1202.67 L282.7,1202.67 L285.7,1202.68 L288.7,1202.68 L291.7,1202.69 L294.7,1202.69 L297.7,1202.7 L300.7,1202.7 L303.7,1202.71 L306.7,1202.72 L309.7,1202.72 L312.7,1202.73 L315.7,1202.74 L318.7,1202.74 L321.7,1202.75 L324.7,1202.76 L327.7,1202.77 L330.7,1202.78 L333.7,1202.79 L336.7,1202.82 L339.7,1202.85 L342.7,1202.91 L345.7,1202.99 L348.7,1203.11 L351.7,1203.25 L354.7,1203.43 L357.7,1203.63 L360.7,1203.86 L363.7,1204.11 L366.7,1204.39 L369.7,1204.67 L372.7,1204.97 L375.7,1205.28 L378.7,1205.6 L381.7,1205.92 L384.7,1206.25 L387.7,1206.59 L390.7,1206.95 L393.7,1207.32 L396.7,1207.72 L399.7,1208.14 L402.7,1208.58 L405.7,1209.04 L408.7,1209.53 L411.7,1210.04 L414.7,1210.58 L417.7,1211.15 L420.7,1211.74 L423.7,1212.37 L426.7,1213.05 L429.7,1213.76 L432.7,1214.5 L435.7,1215.29 L438.7,1216.11 L441.7,1216.96 L444.7,1217.84 L447.7,1218.76 L450.7,1219.71 L453.7,1220.7 L456.7,1221.71 L459.7,1222.75 L462.7,1223.82 L465.7,1224.91 L468.7,1226.04 L471.7,1227.2 L474.7,1228.43 L477.7,1229.71 L480.7,1231.08 L483.7,1232.53 L486.7,1234.08 L489.7,1235.72 L492.7,1237.45 L495.7,1239.28 L498.7,1241.21 L501.7,1243.26 L504.7,1245.42 L507.7,1247.69 L510.7,1250.09 L513.7,1252.6 L516.7,1255.21 L519.7,1257.9 L522.7,1260.69 L525.7,1263.54 L528.7,1266.48 L531.7,1269.51 L534.7,1272.61 L537.7,1275.8 L540.7,1279.08 L543.7,1282.44 L546.7,1285.88 L549.7,1289.41 L552.7,1293.03 L555.7,1296.74 L558.7,1300.55 L561.7,1304.45 L564.7,1308.46 L567.7,1312.59 L570.7,1316.86 L573.7,1321.29 L576.7,1325.92 L579.7,1330.76 L582.7,1335.79 L585.7,1340.98 L588.7,1346.27 L591.7,1351.61 L594.7,1356.94 L597.7,1362.24 L600.7,1367.52 L603.7,1372.78 L606.7,1378.05 L609.7,1383.34 L612.7,1388.67 L615.7,1394.04 L618.7,1399.45 L621.7,1404.9 L624.7,1410.38 L627.7,1415.9 L630.7,1421.45 L633.7,1427.03 L636.7,1432.62 L638.3,1435.6 L819.53,1435.6" fill="none" stroke="#1b7fb3" stroke-width="3" stroke-linejoin="round" stroke-linecap="butt"/>
<path d="M180.7,1202.6 L183.7,1202.6 L186.7,1202.6 L189.7,1202.6 L192.7,1202.6 L195.7,1202.6 L198.7,1202.6 L201.7,1202.6 L204.7,1202.6 L207.7,1202.6 L210.7,1202.6 L213.7,1202.6 L216.7,1202.6 L219.7,1202.61 L222.7,1202.61 L225.7,1202.61 L228.7,1202.61 L231.7,1202.61 L234.7,1202.61 L237.7,1202.61 L240.7,1202.61 L243.7,1202.62 L246.7,1202.62 L249.7,1202.62 L252.7,1202.62 L255.7,1202.62 L258.7,1202.63 L261.7,1202.63 L264.7,1202.63 L267.7,1202.63 L270.7,1202.64 L273.7,1202.64 L276.7,1202.64 L279.7,1202.64 L282.7,1202.65 L285.7,1202.65 L288.7,1202.65 L291.7,1202.66 L294.7,1202.66 L297.7,1202.66 L300.7,1202.67 L303.7,1202.67 L306.7,1202.68 L309.7,1202.68 L312.7,1202.68 L315.7,1202.69 L318.7,1202.69 L321.7,1202.7 L324.7,1202.7 L327.7,1202.71 L330.7,1202.71 L333.7,1202.72 L336.7,1202.73 L339.7,1202.73 L342.7,1202.74 L345.7,1202.74 L348.7,1202.75 L351.7,1202.76 L354.7,1202.76 L357.7,1202.77 L360.7,1202.78 L363.7,1202.8 L366.7,1202.82 L369.7,1202.86 L372.7,1202.91 L375.7,1203 L378.7,1203.11 L381.7,1203.26 L384.7,1203.44 L387.7,1203.65 L390.7,1203.89 L393.7,1204.15 L396.7,1204.43 L399.7,1204.73 L402.7,1205.05 L405.7,1205.38 L408.7,1205.71 L411.7,1206.06 L414.7,1206.4 L417.7,1206.76 L420.7,1207.13 L423.7,1207.51 L426.7,1207.92 L429.7,1208.35 L432.7,1208.81 L435.7,1209.29 L438.7,1209.8 L441.7,1210.34 L444.7,1210.91 L447.7,1211.51 L450.7,1212.14 L453.7,1212.8 L456.7,1213.47 L459.7,1214.16 L462.7,1214.86 L465.7,1215.56 L468.7,1216.26 L471.7,1216.99 L474.7,1217.73 L477.7,1218.51 L480.7,1219.34 L483.7,1220.21 L486.7,1221.13 L489.7,1222.11 L492.7,1223.15 L495.7,1224.25 L498.7,1225.43 L501.7,1226.69 L504.7,1228.05 L507.7,1229.49 L510.7,1231.03 L513.7,1232.65 L516.7,1234.35 L519.7,1236.12 L522.7,1237.94 L525.7,1239.82 L528.7,1241.76 L531.7,1243.75 L534.7,1245.81 L537.7,1247.94 L540.7,1250.15 L543.7,1252.43 L546.7,1254.8 L549.7,1257.25 L552.7,1259.79 L555.7,1262.4 L558.7,1265.08 L561.7,1267.82 L564.7,1270.59 L567.7,1273.41 L570.7,1276.27 L573.7,1279.21 L576.7,1282.24 L579.7,1285.4 L582.7,1288.7 L585.7,1292.11 L588.7,1295.62 L591.7,1299.21 L594.7,1302.85 L597.7,1306.58 L600.7,1310.39 L603.7,1314.33 L606.7,1318.38 L609.7,1322.51 L612.7,1326.64 L615.7,1330.71 L618.7,1334.67 L621.7,1338.49 L624.7,1342.19 L627.7,1345.79 L630.7,1349.3 L633.7,1352.7 L636.7,1355.95 L639.7,1358.99 L642.7,1361.79 L645.7,1364.35 L648.7,1366.67 L651.7,1368.77 L654.7,1370.68 L657.7,1372.38 L660.7,1373.86 L663.7,1375.1 L666.7,1376.07 L669.7,1376.78 L671,1377.8 L822.4,1377.8" fill="none" stroke="#8a50e6" stroke-width="2.7" stroke-linejoin="round" stroke-linecap="butt"/>
<path d="M180.7,1202.6 L183.7,1202.6 L186.7,1202.6 L189.7,1202.6 L192.7,1202.6 L195.7,1202.6 L198.7,1202.6 L201.7,1202.6 L204.7,1202.6 L207.7,1202.6 L210.7,1202.6 L213.7,1202.6 L216.7,1202.6 L219.7,1202.6 L222.7,1202.6 L225.7,1202.61 L228.7,1202.61 L231.7,1202.61 L234.7,1202.61 L237.7,1202.61 L240.7,1202.61 L243.7,1202.61 L246.7,1202.61 L249.7,1202.61 L252.7,1202.61 L255.7,1202.62 L258.7,1202.62 L261.7,1202.62 L264.7,1202.62 L267.7,1202.62 L270.7,1202.62 L273.7,1202.63 L276.7,1202.63 L279.7,1202.63 L282.7,1202.63 L285.7,1202.63 L288.7,1202.64 L291.7,1202.64 L294.7,1202.64 L297.7,1202.64 L300.7,1202.65 L303.7,1202.65 L306.7,1202.65 L309.7,1202.65 L312.7,1202.66 L315.7,1202.66 L318.7,1202.66 L321.7,1202.67 L324.7,1202.67 L327.7,1202.67 L330.7,1202.68 L333.7,1202.68 L336.7,1202.69 L339.7,1202.69 L342.7,1202.69 L345.7,1202.7 L348.7,1202.7 L351.7,1202.71 L354.7,1202.71 L357.7,1202.72 L360.7,1202.72 L363.7,1202.73 L366.7,1202.73 L369.7,1202.74 L372.7,1202.74 L375.7,1202.75 L378.7,1202.76 L381.7,1202.76 L384.7,1202.77 L387.7,1202.77 L390.7,1202.78 L393.7,1202.8 L396.7,1202.82 L399.7,1202.85 L402.7,1202.91 L405.7,1202.99 L408.7,1203.1 L411.7,1203.23 L414.7,1203.4 L417.7,1203.6 L420.7,1203.82 L423.7,1204.06 L426.7,1204.31 L429.7,1204.58 L432.7,1204.86 L435.7,1205.15 L438.7,1205.45 L441.7,1205.76 L444.7,1206.08 L447.7,1206.42 L450.7,1206.78 L453.7,1207.17 L456.7,1207.59 L459.7,1208.04 L462.7,1208.53 L465.7,1209.06 L468.7,1209.62 L471.7,1210.22 L474.7,1210.84 L477.7,1211.47 L480.7,1212.1 L483.7,1212.72 L486.7,1213.34 L489.7,1213.96 L492.7,1214.59 L495.7,1215.24 L498.7,1215.92 L501.7,1216.63 L504.7,1217.39 L507.7,1218.2 L510.7,1219.05 L513.7,1219.94 L516.7,1220.87 L519.7,1221.84 L522.7,1222.84 L525.7,1223.88 L528.7,1224.96 L531.7,1226.08 L534.7,1227.25 L537.7,1228.46 L540.7,1229.72 L543.7,1231.04 L546.7,1232.42 L549.7,1233.87 L552.7,1235.38 L555.7,1236.96 L558.7,1238.61 L561.7,1240.31 L564.7,1242.08 L567.7,1243.9 L570.7,1245.79 L573.7,1247.73 L576.7,1249.74 L579.7,1251.82 L582.7,1253.96 L585.7,1256.17 L588.7,1258.46 L591.7,1260.83 L594.7,1263.27 L597.7,1265.78 L600.7,1268.37 L603.7,1271.01 L606.7,1273.7 L609.7,1276.42 L612.7,1279.17 L615.7,1281.95 L618.7,1284.73 L621.7,1287.5 L624.7,1290.23 L627.7,1292.91 L630.7,1295.49 L633.7,1297.93 L636.7,1300.2 L639.7,1302.27 L642.7,1304.1 L645.7,1305.71 L648.7,1307.12 L651.7,1308.36 L654.7,1309.44 L657.7,1310.39 L660.7,1311.21 L663.7,1311.89 L666.7,1312.44 L669.7,1312.85 L672,1313.5 L832.07,1313.5" fill="none" stroke="#f0861e" stroke-width="2.8" stroke-linejoin="round" stroke-linecap="butt"/>
<path d="M180.7,1202.6 L183.7,1202.6 L186.7,1202.6 L189.7,1202.6 L192.7,1202.6 L195.7,1202.6 L198.7,1202.6 L201.7,1202.6 L204.7,1202.6 L207.7,1202.6 L210.7,1202.6 L213.7,1202.6 L216.7,1202.6 L219.7,1202.6 L222.7,1202.6 L225.7,1202.6 L228.7,1202.6 L231.7,1202.6 L234.7,1202.6 L237.7,1202.6 L240.7,1202.6 L243.7,1202.6 L246.7,1202.6 L249.7,1202.6 L252.7,1202.6 L255.7,1202.6 L258.7,1202.6 L261.7,1202.6 L264.7,1202.6 L267.7,1202.6 L270.7,1202.6 L273.7,1202.6 L276.7,1202.6 L279.7,1202.6 L282.7,1202.6 L285.7,1202.6 L288.7,1202.6 L291.7,1202.6 L294.7,1202.6 L297.7,1202.6 L300.7,1202.6 L303.7,1202.6 L306.7,1202.6 L309.7,1202.6 L312.7,1202.6 L315.7,1202.6 L318.7,1202.6 L321.7,1202.6 L324.7,1202.6 L327.7,1202.6 L330.7,1202.6 L333.7,1202.6 L336.7,1202.6 L339.7,1202.6 L342.7,1202.6 L345.7,1202.6 L348.7,1202.6 L351.7,1202.6 L354.7,1202.6 L357.7,1202.6 L360.7,1202.6 L363.7,1202.6 L366.7,1202.6 L369.7,1202.6 L372.7,1202.6 L375.7,1202.6 L378.7,1202.6 L381.7,1202.6 L384.7,1202.6 L387.7,1202.6 L390.7,1202.6 L393.7,1202.6 L396.7,1202.61 L399.7,1202.62 L402.7,1202.65 L405.7,1202.68 L408.7,1202.73 L411.7,1202.79 L414.7,1202.87 L417.7,1202.96 L420.7,1203.07 L423.7,1203.19 L426.7,1203.33 L429.7,1203.48 L432.7,1203.64 L435.7,1203.81 L438.7,1203.99 L441.7,1204.18 L444.7,1204.38 L447.7,1204.59 L450.7,1204.81 L453.7,1205.04 L456.7,1205.29 L459.7,1205.56 L462.7,1205.86 L465.7,1206.21 L468.7,1206.59 L471.7,1207.02 L474.7,1207.49 L477.7,1208 L480.7,1208.54 L483.7,1209.12 L486.7,1209.71 L489.7,1210.33 L492.7,1210.96 L495.7,1211.61 L498.7,1212.27 L501.7,1212.95 L504.7,1213.65 L507.7,1214.38 L510.7,1215.14 L513.7,1215.92 L516.7,1216.72 L519.7,1217.54 L522.7,1218.37 L525.7,1219.22 L528.7,1220.08 L531.7,1220.95 L534.7,1221.85 L537.7,1222.77 L540.7,1223.72 L543.7,1224.7 L546.7,1225.72 L549.7,1226.78 L552.7,1227.88 L555.7,1229.03 L558.7,1230.21 L561.7,1231.44 L564.7,1232.71 L567.7,1234.02 L570.7,1235.37 L573.7,1236.77 L576.7,1238.22 L579.7,1239.7 L582.7,1241.23 L585.7,1242.81 L588.7,1244.42 L591.7,1246.07 L594.7,1247.76 L597.7,1249.49 L600.7,1251.26 L603.7,1253.07 L606.7,1254.9 L609.7,1256.77 L612.7,1258.66 L615.7,1260.58 L618.7,1262.52 L621.7,1264.47 L624.7,1266.43 L627.7,1268.37 L630.7,1270.29 L633.7,1272.17 L636.7,1274 L639.7,1275.76 L642.7,1277.45 L645.7,1279.05 L648.7,1280.53 L651.7,1281.87 L654.7,1283.05 L657.7,1284.05 L660.7,1284.86 L663.7,1285.47 L666.7,1285.91 L668,1286.5 L836.7,1286.5" fill="none" stroke="#ea4a4a" stroke-width="2.6" stroke-linejoin="round" stroke-linecap="butt"/>
<path d="M180.7,1202.6 L183.7,1202.6 L186.7,1202.6 L189.7,1202.6 L192.7,1202.6 L195.7,1202.6 L198.7,1202.6 L201.7,1202.6 L204.7,1202.6 L207.7,1202.6 L210.7,1202.6 L213.7,1202.6 L216.7,1202.6 L219.7,1202.6 L222.7,1202.6 L225.7,1202.6 L228.7,1202.6 L231.7,1202.6 L234.7,1202.6 L237.7,1202.6 L240.7,1202.6 L243.7,1202.6 L246.7,1202.6 L249.7,1202.6 L252.7,1202.6 L255.7,1202.6 L258.7,1202.6 L261.7,1202.6 L264.7,1202.6 L267.7,1202.6 L270.7,1202.6 L273.7,1202.6 L276.7,1202.6 L279.7,1202.6 L282.7,1202.6 L285.7,1202.6 L288.7,1202.6 L291.7,1202.6 L294.7,1202.6 L297.7,1202.6 L300.7,1202.6 L303.7,1202.6 L306.7,1202.6 L309.7,1202.6 L312.7,1202.6 L315.7,1202.6 L318.7,1202.6 L321.7,1202.6 L324.7,1202.6 L327.7,1202.6 L330.7,1202.6 L333.7,1202.6 L336.7,1202.6 L339.7,1202.6 L342.7,1202.6 L345.7,1202.6 L348.7,1202.6 L351.7,1202.6 L354.7,1202.6 L357.7,1202.6 L360.7,1202.6 L363.7,1202.6 L366.7,1202.6 L369.7,1202.6 L372.7,1202.6 L375.7,1202.6 L378.7,1202.6 L381.7,1202.6 L384.7,1202.6 L387.7,1202.6 L390.7,1202.6 L393.7,1202.6 L396.7,1202.6 L399.7,1202.6 L402.7,1202.6 L405.7,1202.61 L408.7,1202.62 L411.7,1202.63 L414.7,1202.66 L417.7,1202.7 L420.7,1202.75 L423.7,1202.81 L426.7,1202.89 L429.7,1202.98 L432.7,1203.09 L435.7,1203.21 L438.7,1203.33 L441.7,1203.48 L444.7,1203.63 L447.7,1203.79 L450.7,1203.96 L453.7,1204.13 L456.7,1204.32 L459.7,1204.51 L462.7,1204.72 L465.7,1204.94 L468.7,1205.18 L471.7,1205.45 L474.7,1205.75 L477.7,1206.1 L480.7,1206.5 L483.7,1206.94 L486.7,1207.43 L489.7,1207.95 L492.7,1208.52 L495.7,1209.11 L498.7,1209.74 L501.7,1210.38 L504.7,1211.04 L507.7,1211.72 L510.7,1212.4 L513.7,1213.08 L516.7,1213.77 L519.7,1214.46 L522.7,1215.14 L525.7,1215.83 L528.7,1216.53 L531.7,1217.24 L534.7,1217.97 L537.7,1218.73 L540.7,1219.52 L543.7,1220.35 L546.7,1221.22 L549.7,1222.14 L552.7,1223.11 L555.7,1224.12 L558.7,1225.17 L561.7,1226.26 L564.7,1227.38 L567.7,1228.53 L570.7,1229.71 L573.7,1230.91 L576.7,1232.15 L579.7,1233.42 L582.7,1234.7 L585.7,1236.02 L588.7,1237.35 L591.7,1238.69 L594.7,1240.06 L597.7,1241.44 L600.7,1242.85 L603.7,1244.27 L606.7,1245.72 L609.7,1247.2 L612.7,1248.71 L615.7,1250.25 L618.7,1251.82 L621.7,1253.41 L624.7,1255 L627.7,1256.57 L630.7,1258.11 L633.7,1259.6 L636.7,1261.04 L639.7,1262.41 L642.7,1263.71 L645.7,1264.93 L648.7,1266.07 L651.7,1267.12 L654.7,1268.06 L657.7,1268.88 L660.7,1269.58 L663.7,1270.13 L666.7,1270.55 L668,1271.2 L840.77,1271.2" fill="none" stroke="#b00012" stroke-width="2.8" stroke-linejoin="round" stroke-linecap="butt"/>
<path d="M180.7,1202.6 L183.7,1202.6 L186.7,1202.6 L189.7,1202.6 L192.7,1202.6 L195.7,1202.6 L198.7,1202.6 L201.7,1202.6 L204.7,1202.6 L207.7,1202.6 L210.7,1202.6 L213.7,1202.6 L216.7,1202.6 L219.7,1202.6 L222.7,1202.6 L225.7,1202.6 L228.7,1202.6 L231.7,1202.6 L234.7,1202.6 L237.7,1202.6 L240.7,1202.6 L243.7,1202.6 L246.7,1202.6 L249.7,1202.6 L252.7,1202.6 L255.7,1202.6 L258.7,1202.6 L261.7,1202.6 L264.7,1202.6 L267.7,1202.6 L270.7,1202.6 L273.7,1202.6 L276.7,1202.6 L279.7,1202.6 L282.7,1202.6 L285.7,1202.6 L288.7,1202.6 L291.7,1202.6 L294.7,1202.6 L297.7,1202.6 L300.7,1202.6 L303.7,1202.6 L306.7,1202.6 L309.7,1202.6 L312.7,1202.6 L315.7,1202.6 L318.7,1202.6 L321.7,1202.6 L324.7,1202.6 L327.7,1202.6 L330.7,1202.6 L333.7,1202.6 L336.7,1202.6 L339.7,1202.6 L342.7,1202.6 L345.7,1202.6 L348.7,1202.6 L351.7,1202.6 L354.7,1202.6 L357.7,1202.6 L360.7,1202.6 L363.7,1202.6 L366.7,1202.6 L369.7,1202.6 L372.7,1202.6 L375.7,1202.6 L378.7,1202.6 L381.7,1202.6 L384.7,1202.6 L387.7,1202.6 L390.7,1202.6 L393.7,1202.6 L396.7,1202.6 L399.7,1202.6 L402.7,1202.6 L405.7,1202.6 L408.7,1202.6 L411.7,1202.6 L414.7,1202.61 L417.7,1202.61 L420.7,1202.62 L423.7,1202.64 L426.7,1202.67 L429.7,1202.71 L432.7,1202.77 L435.7,1202.83 L438.7,1202.91 L441.7,1203.01 L444.7,1203.11 L447.7,1203.22 L450.7,1203.35 L453.7,1203.48 L456.7,1203.63 L459.7,1203.78 L462.7,1203.94 L465.7,1204.11 L468.7,1204.29 L471.7,1204.48 L474.7,1204.69 L477.7,1204.92 L480.7,1205.18 L483.7,1205.48 L486.7,1205.83 L489.7,1206.24 L492.7,1206.7 L495.7,1207.21 L498.7,1207.77 L501.7,1208.37 L504.7,1208.99 L507.7,1209.63 L510.7,1210.29 L513.7,1210.96 L516.7,1211.62 L519.7,1212.28 L522.7,1212.94 L525.7,1213.59 L528.7,1214.24 L531.7,1214.9 L534.7,1215.57 L537.7,1216.26 L540.7,1216.97 L543.7,1217.7 L546.7,1218.47 L549.7,1219.26 L552.7,1220.09 L555.7,1220.95 L558.7,1221.84 L561.7,1222.76 L564.7,1223.71 L567.7,1224.69 L570.7,1225.71 L573.7,1226.76 L576.7,1227.85 L579.7,1228.96 L582.7,1230.1 L585.7,1231.27 L588.7,1232.45 L591.7,1233.66 L594.7,1234.89 L597.7,1236.13 L600.7,1237.39 L603.7,1238.66 L606.7,1239.94 L609.7,1241.23 L612.7,1242.52 L615.7,1243.81 L618.7,1245.09 L621.7,1246.38 L624.7,1247.66 L627.7,1248.93 L630.7,1250.18 L633.7,1251.42 L636.7,1252.63 L639.7,1253.81 L642.7,1254.95 L645.7,1256.03 L648.7,1257.05 L651.7,1257.99 L654.7,1258.82 L657.7,1259.55 L660.7,1260.16 L663.7,1260.63 L666.7,1260.98 L668,1261.5 L843.1,1261.5" fill="none" stroke="#303030" stroke-width="3" stroke-linejoin="round" stroke-linecap="round"/>
<line x1="1227.2" y1="257.14" x2="1227.2" y2="793.32" stroke="#363636" stroke-width="1.85"/>
<path d="M1227.2,792.4L1208.5,792.4M1227.2,762.71L1217.6,762.71M1227.2,733.03L1208.5,733.03M1227.2,703.35L1217.6,703.35M1227.2,673.66L1208.5,673.66M1227.2,643.97L1217.6,643.97M1227.2,614.29L1208.5,614.29M1227.2,584.61L1217.6,584.61M1227.2,554.92L1208.5,554.92M1227.2,525.23L1217.6,525.23M1227.2,495.55L1208.5,495.55M1227.2,465.86L1217.6,465.86M1227.2,436.18L1208.5,436.18M1227.2,406.49L1217.6,406.49M1227.2,376.81L1208.5,376.81M1227.2,347.12L1217.6,347.12M1227.2,317.44L1208.5,317.44M1227.2,287.75L1217.6,287.75M1227.2,258.07L1208.5,258.07" fill="none" stroke="#363636" stroke-width="1.85"/>
<text x="1157.59" y="803.4" font-size="31.57" textLength="33.9" lengthAdjust="spacingAndGlyphs" fill="#000">35</text>
<text x="1155.93" y="744.03" font-size="31.57" textLength="35.62" lengthAdjust="spacingAndGlyphs" fill="#000">40</text>
<text x="1156.99" y="684.66" font-size="31.57" textLength="34.52" lengthAdjust="spacingAndGlyphs" fill="#000">45</text>
<text x="1156.51" y="625.29" font-size="31.57" textLength="35.02" lengthAdjust="spacingAndGlyphs" fill="#000">50</text>
<text x="1157.59" y="565.92" font-size="31.57" textLength="33.9" lengthAdjust="spacingAndGlyphs" fill="#000">55</text>
<text x="1156.18" y="506.55" font-size="31.57" textLength="35.37" lengthAdjust="spacingAndGlyphs" fill="#000">60</text>
<text x="1157.27" y="447.18" font-size="31.57" textLength="34.24" lengthAdjust="spacingAndGlyphs" fill="#000">65</text>
<text x="1156.36" y="387.81" font-size="31.57" textLength="35.18" lengthAdjust="spacingAndGlyphs" fill="#000">70</text>
<text x="1157.45" y="328.44" font-size="31.57" textLength="34.05" lengthAdjust="spacingAndGlyphs" fill="#000">75</text>
<text x="1156.17" y="269.07" font-size="31.57" textLength="35.38" lengthAdjust="spacingAndGlyphs" fill="#000">80</text>
<g transform="rotate(-90 1138.4 524.7)">
<text x="810.24" y="524.7" font-size="31.81" textLength="111.16" lengthAdjust="spacingAndGlyphs" fill="#000" font-weight="bold">Product</text>
<text x="929.14" y="524.7" font-size="31.81" textLength="102.55" lengthAdjust="spacingAndGlyphs" fill="#000" font-weight="bold">salinity</text>
<text x="1039.08" y="524.7" font-size="31.81" textLength="29.46" lengthAdjust="spacingAndGlyphs" fill="#000" font-weight="bold">of</text>
<text x="1076" y="524.7" font-size="31.81" textLength="83.05" lengthAdjust="spacingAndGlyphs" fill="#000" font-weight="bold">eMed</text>
<text x="1166.83" y="524.7" font-size="31.81" textLength="87.55" lengthAdjust="spacingAndGlyphs" fill="#000" font-weight="bold">below</text>
<text x="1262.24" y="524.7" font-size="31.81" textLength="72.25" lengthAdjust="spacingAndGlyphs" fill="#000" font-weight="bold">Sicily</text>
<text x="1341.94" y="524.7" font-size="31.81" textLength="39.02" lengthAdjust="spacingAndGlyphs" fill="#000" font-weight="bold">sill</text>
<text x="1389.34" y="524.7" font-size="31.81" textLength="76.69" lengthAdjust="spacingAndGlyphs" fill="#000" font-weight="bold">(PSU)</text>
</g>
<line x1="1235.4" y1="813.5" x2="1995.8" y2="813.5" stroke="#363636" stroke-width="1.85"/>
<path d="M1235.4,812.58L1235.4,830.9M1273.42,812.58L1273.42,822.5M1311.44,812.58L1311.44,830.9M1349.46,812.58L1349.46,822.5M1387.48,812.58L1387.48,830.9M1425.5,812.58L1425.5,822.5M1463.52,812.58L1463.52,830.9M1501.54,812.58L1501.54,822.5M1539.56,812.58L1539.56,830.9M1577.58,812.58L1577.58,822.5M1615.6,812.58L1615.6,830.9M1653.62,812.58L1653.62,822.5M1691.64,812.58L1691.64,830.9M1729.66,812.58L1729.66,822.5M1767.68,812.58L1767.68,830.9M1805.7,812.58L1805.7,822.5M1843.72,812.58L1843.72,830.9M1881.74,812.58L1881.74,822.5M1919.76,812.58L1919.76,830.9M1957.78,812.58L1957.78,822.5M1995.8,812.58L1995.8,830.9" fill="none" stroke="#363636" stroke-width="1.85"/>
<text x="1217.87" y="880.7" font-size="31.57" textLength="35.62" lengthAdjust="spacingAndGlyphs" fill="#000">40</text>
<text x="1293.97" y="880.7" font-size="31.57" textLength="35.02" lengthAdjust="spacingAndGlyphs" fill="#000">50</text>
<text x="1369.68" y="880.7" font-size="31.57" textLength="35.37" lengthAdjust="spacingAndGlyphs" fill="#000">60</text>
<text x="1445.81" y="880.7" font-size="31.57" textLength="35.18" lengthAdjust="spacingAndGlyphs" fill="#000">70</text>
<text x="1521.83" y="880.7" font-size="31.57" textLength="35.38" lengthAdjust="spacingAndGlyphs" fill="#000">80</text>
<text x="1598.34" y="880.7" font-size="31.57" textLength="34.44" lengthAdjust="spacingAndGlyphs" fill="#000">90</text>
<text x="1665.06" y="880.7" font-size="31.57" textLength="52.18" lengthAdjust="spacingAndGlyphs" fill="#000">100</text>
<text x="1740.99" y="880.7" font-size="31.57" textLength="52.22" lengthAdjust="spacingAndGlyphs" fill="#000">110</text>
<text x="1817.14" y="880.7" font-size="31.57" textLength="52.18" lengthAdjust="spacingAndGlyphs" fill="#000">120</text>
<text x="1893.18" y="880.7" font-size="31.57" textLength="52.18" lengthAdjust="spacingAndGlyphs" fill="#000">130</text>
<text x="1969.22" y="880.7" font-size="31.57" textLength="52.18" lengthAdjust="spacingAndGlyphs" fill="#000">140</text>
<text x="1229.18" y="928.4" font-size="33.6" textLength="93.1" lengthAdjust="spacingAndGlyphs" fill="#000" font-weight="bold">Initial</text>
<text x="1330.72" y="928.4" font-size="33.6" textLength="117.73" lengthAdjust="spacingAndGlyphs" fill="#000" font-weight="bold">salinity</text>
<text x="1456.94" y="928.4" font-size="33.6" textLength="33.82" lengthAdjust="spacingAndGlyphs" fill="#000" font-weight="bold">of</text>
<text x="1499.6" y="928.4" font-size="33.6" textLength="130.13" lengthAdjust="spacingAndGlyphs" fill="#000" font-weight="bold">residual</text>
<text x="1638.94" y="928.4" font-size="33.6" textLength="165.83" lengthAdjust="spacingAndGlyphs" fill="#000" font-weight="bold">Messinian</text>
<text x="1813.59" y="928.4" font-size="33.6" textLength="89.95" lengthAdjust="spacingAndGlyphs" fill="#000" font-weight="bold">fluids</text>
<text x="1912.63" y="928.4" font-size="33.6" textLength="88.04" lengthAdjust="spacingAndGlyphs" fill="#000" font-weight="bold">(PSU)</text>
<line x1="1235.4" y1="757.6" x2="1995.8" y2="275.7" stroke="#383838" stroke-width="4.2" stroke-linecap="round"/>
<line x1="1220.9" y1="1060.49" x2="1220.9" y2="1608.92" stroke="#363636" stroke-width="1.85"/>
<path d="M1220.9,1608L1202.2,1608M1220.9,1577.63L1211.3,1577.63M1220.9,1547.27L1202.2,1547.27M1220.9,1516.9L1211.3,1516.9M1220.9,1486.54L1202.2,1486.54M1220.9,1456.17L1211.3,1456.17M1220.9,1425.8L1202.2,1425.8M1220.9,1395.44L1211.3,1395.44M1220.9,1365.07L1202.2,1365.07M1220.9,1334.71L1211.3,1334.71M1220.9,1304.34L1202.2,1304.34M1220.9,1273.97L1211.3,1273.97M1220.9,1243.61L1202.2,1243.61M1220.9,1213.24L1211.3,1213.24M1220.9,1182.88L1202.2,1182.88M1220.9,1152.51L1211.3,1152.51M1220.9,1122.14L1202.2,1122.14M1220.9,1091.78L1211.3,1091.78M1220.9,1061.41L1202.2,1061.41" fill="none" stroke="#363636" stroke-width="1.85"/>
<text x="1151.01" y="1618.4" font-size="28.88" textLength="33.31" lengthAdjust="spacingAndGlyphs" fill="#000">36</text>
<text x="1150.12" y="1557.67" font-size="28.88" textLength="34.07" lengthAdjust="spacingAndGlyphs" fill="#000">40</text>
<text x="1149.79" y="1496.94" font-size="28.88" textLength="34.1" lengthAdjust="spacingAndGlyphs" fill="#000">44</text>
<text x="1150.63" y="1436.2" font-size="28.88" textLength="33.55" lengthAdjust="spacingAndGlyphs" fill="#000">48</text>
<text x="1151.18" y="1375.47" font-size="28.88" textLength="33.29" lengthAdjust="spacingAndGlyphs" fill="#000">52</text>
<text x="1151.01" y="1314.74" font-size="28.88" textLength="33.31" lengthAdjust="spacingAndGlyphs" fill="#000">56</text>
<text x="1150.36" y="1254.01" font-size="28.88" textLength="33.83" lengthAdjust="spacingAndGlyphs" fill="#000">60</text>
<text x="1150.03" y="1193.28" font-size="28.88" textLength="33.86" lengthAdjust="spacingAndGlyphs" fill="#000">64</text>
<text x="1150.88" y="1132.54" font-size="28.88" textLength="33.29" lengthAdjust="spacingAndGlyphs" fill="#000">68</text>
<text x="1151.04" y="1071.81" font-size="28.88" textLength="33.44" lengthAdjust="spacingAndGlyphs" fill="#000">72</text>
<g transform="rotate(-90 1130.4 1335)">
<text x="876.09" y="1335" font-size="36.75" textLength="121.29" lengthAdjust="spacingAndGlyphs" fill="#000" font-weight="bold">Bottom</text>
<text x="1005.99" y="1335" font-size="36.75" textLength="117.42" lengthAdjust="spacingAndGlyphs" fill="#000" font-weight="bold">salinity</text>
<text x="1131.92" y="1335" font-size="36.75" textLength="154.78" lengthAdjust="spacingAndGlyphs" fill="#000" font-weight="bold">evolution</text>
<text x="1296.27" y="1335" font-size="36.75" textLength="87.81" lengthAdjust="spacingAndGlyphs" fill="#000" font-weight="bold">(PSU)</text>
</g>
<line x1="1251.8" y1="1668.2" x2="2056.6" y2="1668.2" stroke="#363636" stroke-width="1.85"/>
<path d="M1251.8,1667.28L1251.8,1686.2M1271.92,1667.28L1271.92,1677.2M1292.04,1667.28L1292.04,1677.2M1312.16,1667.28L1312.16,1677.2M1332.28,1667.28L1332.28,1686.2M1352.4,1667.28L1352.4,1677.2M1372.52,1667.28L1372.52,1677.2M1392.64,1667.28L1392.64,1677.2M1412.76,1667.28L1412.76,1686.2M1432.88,1667.28L1432.88,1677.2M1453,1667.28L1453,1677.2M1473.12,1667.28L1473.12,1677.2M1493.24,1667.28L1493.24,1686.2M1513.36,1667.28L1513.36,1677.2M1533.48,1667.28L1533.48,1677.2M1553.6,1667.28L1553.6,1677.2M1573.72,1667.28L1573.72,1686.2M1593.84,1667.28L1593.84,1677.2M1613.96,1667.28L1613.96,1677.2M1634.08,1667.28L1634.08,1677.2M1654.2,1667.28L1654.2,1686.2M1674.32,1667.28L1674.32,1677.2M1694.44,1667.28L1694.44,1677.2M1714.56,1667.28L1714.56,1677.2M1734.68,1667.28L1734.68,1686.2M1754.8,1667.28L1754.8,1677.2M1774.92,1667.28L1774.92,1677.2M1795.04,1667.28L1795.04,1677.2M1815.16,1667.28L1815.16,1686.2M1835.28,1667.28L1835.28,1677.2M1855.4,1667.28L1855.4,1677.2M1875.52,1667.28L1875.52,1677.2M1895.64,1667.28L1895.64,1686.2M1915.76,1667.28L1915.76,1677.2M1935.88,1667.28L1935.88,1677.2M1956,1667.28L1956,1677.2M1976.12,1667.28L1976.12,1686.2M1996.24,1667.28L1996.24,1677.2M2016.36,1667.28L2016.36,1677.2M2036.48,1667.28L2036.48,1677.2M2056.6,1667.28L2056.6,1686.2" fill="none" stroke="#363636" stroke-width="1.85"/>
<g transform="rotate(-60 1265.48 1720.3)">
<text x="1249.2" y="1720.3" font-size="29.37" textLength="17.58" lengthAdjust="spacingAndGlyphs" fill="#000">0</text>
</g>
<g transform="rotate(-60 1358.51 1720.3)">
<text x="1292.24" y="1720.3" font-size="29.37" textLength="67.47" lengthAdjust="spacingAndGlyphs" fill="#000">4000</text>
</g>
<g transform="rotate(-60 1438.99 1720.3)">
<text x="1372.95" y="1720.3" font-size="29.37" textLength="67.24" lengthAdjust="spacingAndGlyphs" fill="#000">8000</text>
</g>
<g transform="rotate(-60 1523.65 1720.3)">
<text x="1441.54" y="1720.3" font-size="29.37" textLength="83.33" lengthAdjust="spacingAndGlyphs" fill="#000">12000</text>
</g>
<g transform="rotate(-60 1604.13 1720.3)">
<text x="1522.02" y="1720.3" font-size="29.37" textLength="83.33" lengthAdjust="spacingAndGlyphs" fill="#000">16000</text>
</g>
<g transform="rotate(-60 1684.61 1720.3)">
<text x="1601.75" y="1720.3" font-size="29.37" textLength="84.09" lengthAdjust="spacingAndGlyphs" fill="#000">20000</text>
</g>
<g transform="rotate(-60 1765.09 1720.3)">
<text x="1682.23" y="1720.3" font-size="29.37" textLength="84.09" lengthAdjust="spacingAndGlyphs" fill="#000">24000</text>
</g>
<g transform="rotate(-60 1845.57 1720.3)">
<text x="1762.71" y="1720.3" font-size="29.37" textLength="84.09" lengthAdjust="spacingAndGlyphs" fill="#000">28000</text>
</g>
<g transform="rotate(-60 1926.05 1720.3)">
<text x="1843.5" y="1720.3" font-size="29.37" textLength="83.78" lengthAdjust="spacingAndGlyphs" fill="#000">32000</text>
</g>
<g transform="rotate(-60 2006.53 1720.3)">
<text x="1923.98" y="1720.3" font-size="29.37" textLength="83.78" lengthAdjust="spacingAndGlyphs" fill="#000">36000</text>
</g>
<g transform="rotate(-60 2087.01 1720.3)">
<text x="2003.92" y="1720.3" font-size="29.37" textLength="84.33" lengthAdjust="spacingAndGlyphs" fill="#000">40000</text>
</g>
<text x="1554.35" y="1836.9" font-size="33.6" textLength="81.13" lengthAdjust="spacingAndGlyphs" fill="#000" font-weight="bold">Time</text>
<text x="1644.9" y="1836.9" font-size="33.6" textLength="109.83" lengthAdjust="spacingAndGlyphs" fill="#000" font-weight="bold">(years)</text>
<line x1="1220.9" y1="1564" x2="2120" y2="1564" stroke="#111" stroke-width="2" stroke-dasharray="6.4 7.7"/>
<rect x="1543.4" y="1610.8" width="138.6" height="42.5" fill="#c6abfa"/>
<text x="1620.25" y="1197.5" font-size="33.6" textLength="133.92" lengthAdjust="spacingAndGlyphs" fill="#000">Residual</text>
<text x="1763.76" y="1197.5" font-size="33.6" textLength="162.62" lengthAdjust="spacingAndGlyphs" fill="#000">Messinian</text>
<text x="1620.74" y="1244.9" font-size="33.6" textLength="111.07" lengthAdjust="spacingAndGlyphs" fill="#000">(initial)</text>
<text x="1741.35" y="1244.9" font-size="33.6" textLength="83.35" lengthAdjust="spacingAndGlyphs" fill="#000">brine</text>
<text x="1833.64" y="1244.9" font-size="33.6" textLength="112.42" lengthAdjust="spacingAndGlyphs" fill="#000">salinity</text>
<text x="1621.54" y="1292.6" font-size="33.6" textLength="40" lengthAdjust="spacingAndGlyphs" fill="#1e86e6" font-weight="bold">60</text>
<text x="1669.86" y="1292.6" font-size="33.6" textLength="64.35" lengthAdjust="spacingAndGlyphs" fill="#1e86e6" font-weight="bold">PSU</text>
<text x="1621.72" y="1340.53" font-size="33.6" textLength="39.94" lengthAdjust="spacingAndGlyphs" fill="#9a66d6" font-weight="bold">80</text>
<text x="1669.97" y="1340.53" font-size="33.6" textLength="64.24" lengthAdjust="spacingAndGlyphs" fill="#9a66d6" font-weight="bold">PSU</text>
<text x="1620.45" y="1388.46" font-size="33.6" textLength="60.43" lengthAdjust="spacingAndGlyphs" fill="#f27040" font-weight="bold">100</text>
<text x="1689.16" y="1388.46" font-size="33.6" textLength="65.25" lengthAdjust="spacingAndGlyphs" fill="#f27040" font-weight="bold">PSU</text>
<text x="1620.45" y="1436.39" font-size="33.6" textLength="60.43" lengthAdjust="spacingAndGlyphs" fill="#b51218" font-weight="bold">120</text>
<text x="1689.16" y="1436.39" font-size="33.6" textLength="65.25" lengthAdjust="spacingAndGlyphs" fill="#b51218" font-weight="bold">PSU</text>
<path d="M1250.5,1465.4 L1252,1465.4 L1253.5,1465.4 L1255,1465.4 L1256.5,1465.4 L1258,1465.4 L1259.5,1465.4 L1261,1465.4 L1262.5,1465.4 L1264,1465.4 L1265.5,1465.41 L1267,1465.49 L1268.5,1465.63 L1270,1465.81 L1271.5,1466.09 L1273,1466.49 L1274.5,1466.93 L1276,1467.45 L1277.5,1468.05 L1279,1468.7 L1280.5,1469.38 L1282,1470.11 L1283.5,1470.9 L1285,1471.75 L1286.5,1472.69 L1288,1473.71 L1289.5,1474.77 L1291,1475.9 L1292.5,1477.1 L1294,1478.35 L1295.5,1479.6 L1297,1480.87 L1298.5,1482.17 L1300,1483.46 L1301.5,1484.71 L1303,1485.92 L1304.5,1487.11 L1306,1488.32 L1307.5,1489.56 L1309,1490.83 L1310.5,1492.1 L1312,1493.34 L1313.5,1494.56 L1315,1495.75 L1316.5,1496.94 L1318,1498.14 L1319.5,1499.33 L1321,1500.53 L1322.5,1501.71 L1324,1502.88 L1325.5,1504.03 L1327,1505.18 L1328.5,1506.31 L1330,1507.42 L1331.5,1508.52 L1333,1509.59 L1334.5,1510.65 L1336,1511.69 L1337.5,1512.7 L1339,1513.7 L1340.5,1514.67 L1342,1515.62 L1343.5,1516.55 L1345,1517.47 L1346.5,1518.36 L1348,1519.24 L1349.5,1520.11 L1351,1520.95 L1352.5,1521.79 L1354,1522.6 L1355.5,1523.4 L1357,1524.18 L1358.5,1524.95 L1360,1525.71 L1361.5,1526.45 L1363,1527.17 L1364.5,1527.88 L1366,1528.58 L1367.5,1529.26 L1369,1529.94 L1370.5,1530.59 L1372,1531.24 L1373.5,1531.87 L1375,1532.5 L1376.5,1533.11 L1378,1533.7 L1379.5,1534.29 L1381,1534.86 L1382.5,1535.43 L1384,1535.98 L1385.5,1536.52 L1387,1537.06 L1388.5,1537.58 L1390,1538.09 L1391.5,1538.59 L1393,1539.09 L1394.5,1539.57 L1396,1540.04 L1397.5,1540.51 L1399,1540.96 L1400.5,1541.41 L1402,1541.85 L1403.5,1542.28 L1405,1542.7 L1406.5,1543.12 L1408,1543.52 L1409.5,1543.92 L1411,1544.31 L1412.5,1544.69 L1414,1545.07 L1415.5,1545.44 L1417,1545.8 L1418.5,1546.15 L1420,1546.5 L1421.5,1546.84 L1423,1547.18 L1424.5,1547.51 L1426,1547.83 L1427.5,1548.14 L1429,1548.45 L1430.5,1548.76 L1432,1549.05 L1433.5,1549.35 L1435,1549.63 L1436.5,1549.91 L1438,1550.19 L1439.5,1550.46 L1441,1550.73 L1442.5,1550.99 L1444,1551.24 L1445.5,1551.49 L1447,1551.74 L1448.5,1551.98 L1450,1552.21 L1451.5,1552.45 L1453,1552.67 L1454.5,1552.9 L1456,1553.11 L1457.5,1553.33 L1459,1553.54 L1460.5,1553.74 L1462,1553.95 L1463.5,1554.15 L1465,1554.34 L1466.5,1554.53 L1468,1554.72 L1469.5,1554.9 L1471,1555.08 L1472.5,1555.26 L1474,1555.43 L1475.5,1555.6 L1477,1555.77 L1478.5,1555.93 L1480,1556.09 L1481.5,1556.25 L1483,1556.4 L1484.5,1556.55 L1486,1556.7 L1487.5,1556.85 L1489,1556.99 L1490.5,1557.13 L1492,1557.27 L1493.5,1557.4 L1495,1557.54 L1496.5,1557.67 L1498,1557.79 L1499.5,1557.92 L1501,1558.04 L1502.5,1558.16 L1504,1558.28 L1505.5,1558.39 L1507,1558.51 L1508.5,1558.62 L1510,1558.73 L1511.5,1558.83 L1513,1558.94 L1514.5,1559.04 L1516,1559.14 L1517.5,1559.24 L1519,1559.34 L1520.5,1559.43 L1522,1559.53 L1523.5,1559.62 L1525,1559.71 L1526.5,1559.79 L1528,1559.88 L1529.5,1559.97 L1531,1560.05 L1532.5,1560.13 L1534,1560.21 L1535.5,1560.29 L1537,1560.37 L1538.5,1560.44 L1540,1560.51 L1541.5,1560.59 L1543,1560.66 L1544.5,1560.73 L1546,1560.8 L1547.5,1560.86 L1549,1560.93 L1550.5,1560.99 L1552,1561.06 L1553.5,1561.12 L1555,1561.18 L1556.5,1561.24 L1558,1561.3 L1559.5,1561.36 L1561,1561.41 L1562.5,1561.47 L1564,1561.52 L1565.5,1561.58 L1567,1561.63 L1568.5,1561.68 L1570,1561.73 L1571.5,1561.78 L1573,1561.83 L1574.5,1561.87 L1576,1561.92 L1577.5,1561.97 L1579,1562.01 L1580.5,1562.06 L1582,1562.1 L1583.5,1562.14 L1585,1562.18 L1586.5,1562.22 L1588,1562.26 L1589.5,1562.3 L1591,1562.34 L1592.5,1562.38 L1594,1562.41 L1595.5,1562.45 L1597,1562.49 L1598.5,1562.52 L1600,1562.55 L1601.5,1562.59 L1603,1562.62 L1604.5,1562.65 L1606,1562.68 L1607.5,1562.72 L1609,1562.75 L1610.5,1562.78 L1612,1562.8 L1613.5,1562.83 L1615,1562.86 L1616.5,1562.89 L1618,1562.92 L1619.5,1562.94 L1621,1562.97 L1622.5,1562.99 L1624,1563.02 L1625.5,1563.04 L1627,1563.07 L1628.5,1563.09 L1630,1563.11 L1631.5,1563.14 L1633,1563.16 L1634.5,1563.18 L1636,1563.2 L1637.5,1563.22 L1639,1563.24 L1640.5,1563.26 L1642,1563.28 L1643.5,1563.3 L1645,1563.32 L1646.5,1563.34 L1648,1563.36 L1649.5,1563.38 L1651,1563.4 L1652.5,1563.41 L1654,1563.43 L1655.5,1563.45 L1657,1563.46 L1658.5,1563.48 L1660,1563.49 L1661.5,1563.51 L1663,1563.53 L1664.5,1563.54 L1666,1563.55 L1667.5,1563.57 L1669,1563.58 L1670.5,1563.6 L1672,1563.61 L1673.5,1563.62 L1675,1563.64 L1676.5,1563.65 L1678,1563.66 L1679.5,1563.67 L1681,1563.69 L1682.5,1563.7 L1684,1563.71 L1685.5,1563.72 L1687,1563.73 L1688.5,1563.74 L1690,1563.75 L1691.5,1563.76 L1693,1563.77 L1694.5,1563.78 L1696,1563.79 L1697.5,1563.8 L1699,1563.81 L1700,1563.82 L1710,1563.88 L1720,1563.93 L1730,1563.97 L1740,1564.01 L1750,1564.05 L1760,1564.08 L1770,1564.11 L1780,1564.13 L1790,1564.15 L1800,1564.17 L1810,1564.18 L1820,1564.2 L1830,1564.21 L1840,1564.22 L1850,1564.23 L1860,1564.24 L1870,1564.25 L1880,1564.25 L1890,1564.26 L1900,1564.26 L1910,1564.27 L1920,1564.27 L1930,1564.28 L1940,1564.28 L1950,1564.28 L1960,1564.28 L1970,1564.29 L1980,1564.29 L1990,1564.29 L2000,1564.29 L2010,1564.29 L2020,1564.29 L2030,1564.29 L2040,1564.29 L2050,1564.29 L2056.6,1564.3" fill="none" stroke="#1878dc" stroke-width="3.2" stroke-linejoin="round" stroke-linecap="butt"/>
<path d="M1250.5,1350 L1252,1350 L1253.5,1350 L1255,1350 L1256.5,1350 L1258,1350 L1259.5,1350 L1261,1350 L1262.5,1350 L1264,1350 L1265.5,1350.02 L1267,1350.19 L1268.5,1350.5 L1270,1350.88 L1271.5,1351.49 L1273,1352.35 L1274.5,1353.32 L1276,1354.45 L1277.5,1355.75 L1279,1357.15 L1280.5,1358.62 L1282,1360.21 L1283.5,1361.92 L1285,1363.77 L1286.5,1365.81 L1288,1368 L1289.5,1370.31 L1291,1372.74 L1292.5,1375.35 L1294,1378.05 L1295.5,1380.77 L1297,1383.53 L1298.5,1386.34 L1300,1389.13 L1301.5,1391.84 L1303,1394.46 L1304.5,1397.05 L1306,1399.67 L1307.5,1402.36 L1309,1405.1 L1310.5,1407.85 L1312,1410.54 L1313.5,1413.18 L1315,1415.77 L1316.5,1418.35 L1318,1420.94 L1319.5,1423.53 L1321,1426.11 L1322.5,1428.67 L1324,1431.21 L1325.5,1433.71 L1327,1436.19 L1328.5,1438.64 L1330,1441.05 L1331.5,1443.43 L1333,1445.76 L1334.5,1448.05 L1336,1450.3 L1337.5,1452.5 L1339,1454.65 L1340.5,1456.75 L1342,1458.82 L1343.5,1460.84 L1345,1462.82 L1346.5,1464.76 L1348,1466.67 L1349.5,1468.54 L1351,1470.38 L1352.5,1472.18 L1354,1473.94 L1355.5,1475.67 L1357,1477.37 L1358.5,1479.04 L1360,1480.67 L1361.5,1482.28 L1363,1483.85 L1364.5,1485.39 L1366,1486.9 L1367.5,1488.38 L1369,1489.84 L1370.5,1491.27 L1372,1492.67 L1373.5,1494.04 L1375,1495.39 L1376.5,1496.71 L1378,1498 L1379.5,1499.27 L1381,1500.52 L1382.5,1501.74 L1384,1502.94 L1385.5,1504.12 L1387,1505.27 L1388.5,1506.4 L1390,1507.51 L1391.5,1508.6 L1393,1509.67 L1394.5,1510.71 L1396,1511.74 L1397.5,1512.75 L1399,1513.73 L1400.5,1514.7 L1402,1515.65 L1403.5,1516.59 L1405,1517.5 L1406.5,1518.4 L1408,1519.28 L1409.5,1520.14 L1411,1520.99 L1412.5,1521.82 L1414,1522.63 L1415.5,1523.43 L1417,1524.21 L1418.5,1524.98 L1420,1525.73 L1421.5,1526.47 L1423,1527.2 L1424.5,1527.91 L1426,1528.61 L1427.5,1529.29 L1429,1529.96 L1430.5,1530.62 L1432,1531.27 L1433.5,1531.9 L1435,1532.52 L1436.5,1533.13 L1438,1533.73 L1439.5,1534.31 L1441,1534.89 L1442.5,1535.45 L1444,1536 L1445.5,1536.54 L1447,1537.08 L1448.5,1537.6 L1450,1538.11 L1451.5,1538.61 L1453,1539.1 L1454.5,1539.59 L1456,1540.06 L1457.5,1540.53 L1459,1540.98 L1460.5,1541.43 L1462,1541.87 L1463.5,1542.3 L1465,1542.72 L1466.5,1543.13 L1468,1543.54 L1469.5,1543.94 L1471,1544.33 L1472.5,1544.71 L1474,1545.08 L1475.5,1545.45 L1477,1545.81 L1478.5,1546.17 L1480,1546.51 L1481.5,1546.86 L1483,1547.19 L1484.5,1547.52 L1486,1547.84 L1487.5,1548.15 L1489,1548.46 L1490.5,1548.77 L1492,1549.07 L1493.5,1549.36 L1495,1549.64 L1496.5,1549.92 L1498,1550.2 L1499.5,1550.47 L1501,1550.74 L1502.5,1551 L1504,1551.25 L1505.5,1551.5 L1507,1551.75 L1508.5,1551.99 L1510,1552.22 L1511.5,1552.45 L1513,1552.68 L1514.5,1552.9 L1516,1553.12 L1517.5,1553.34 L1519,1553.55 L1520.5,1553.75 L1522,1553.95 L1523.5,1554.15 L1525,1554.35 L1526.5,1554.54 L1528,1554.72 L1529.5,1554.91 L1531,1555.09 L1532.5,1555.26 L1534,1555.44 L1535.5,1555.61 L1537,1555.77 L1538.5,1555.94 L1540,1556.1 L1541.5,1556.26 L1543,1556.41 L1544.5,1556.56 L1546,1556.71 L1547.5,1556.85 L1549,1557 L1550.5,1557.14 L1552,1557.27 L1553.5,1557.41 L1555,1557.54 L1556.5,1557.67 L1558,1557.8 L1559.5,1557.92 L1561,1558.04 L1562.5,1558.16 L1564,1558.28 L1565.5,1558.4 L1567,1558.51 L1568.5,1558.62 L1570,1558.73 L1571.5,1558.84 L1573,1558.94 L1574.5,1559.04 L1576,1559.15 L1577.5,1559.24 L1579,1559.34 L1580.5,1559.44 L1582,1559.53 L1583.5,1559.62 L1585,1559.71 L1586.5,1559.8 L1588,1559.88 L1589.5,1559.97 L1591,1560.05 L1592.5,1560.13 L1594,1560.21 L1595.5,1560.29 L1597,1560.37 L1598.5,1560.44 L1600,1560.52 L1601.5,1560.59 L1603,1560.66 L1604.5,1560.73 L1606,1560.8 L1607.5,1560.87 L1609,1560.93 L1610.5,1561 L1612,1561.06 L1613.5,1561.12 L1615,1561.18 L1616.5,1561.24 L1618,1561.3 L1619.5,1561.36 L1621,1561.42 L1622.5,1561.47 L1624,1561.52 L1625.5,1561.58 L1627,1561.63 L1628.5,1561.68 L1630,1561.73 L1631.5,1561.78 L1633,1561.83 L1634.5,1561.88 L1636,1561.92 L1637.5,1561.97 L1639,1562.01 L1640.5,1562.06 L1642,1562.1 L1643.5,1562.14 L1645,1562.18 L1646.5,1562.22 L1648,1562.26 L1649.5,1562.3 L1651,1562.34 L1652.5,1562.38 L1654,1562.42 L1655.5,1562.45 L1657,1562.49 L1658.5,1562.52 L1660,1562.56 L1661.5,1562.59 L1663,1562.62 L1664.5,1562.65 L1666,1562.69 L1667.5,1562.72 L1669,1562.75 L1670.5,1562.78 L1672,1562.81 L1673.5,1562.83 L1675,1562.86 L1676.5,1562.89 L1678,1562.92 L1679.5,1562.94 L1681,1562.97 L1682.5,1563 L1684,1563.02 L1685.5,1563.04 L1687,1563.07 L1688.5,1563.09 L1690,1563.12 L1691.5,1563.14 L1693,1563.16 L1694.5,1563.18 L1696,1563.2 L1697.5,1563.22 L1699,1563.25 L1700,1563.26 L1710,1563.38 L1720,1563.5 L1730,1563.59 L1740,1563.68 L1750,1563.75 L1760,1563.82 L1770,1563.88 L1780,1563.93 L1790,1563.97 L1800,1564.01 L1810,1564.05 L1820,1564.08 L1830,1564.11 L1840,1564.13 L1850,1564.15 L1860,1564.17 L1870,1564.18 L1880,1564.2 L1890,1564.21 L1900,1564.22 L1910,1564.23 L1920,1564.24 L1930,1564.25 L1940,1564.25 L1950,1564.26 L1960,1564.26 L1970,1564.27 L1980,1564.27 L1990,1564.28 L2000,1564.28 L2010,1564.28 L2020,1564.28 L2030,1564.29 L2040,1564.29 L2050,1564.29 L2056.6,1564.29" fill="none" stroke="#8d55e8" stroke-width="3.2" stroke-linejoin="round" stroke-linecap="butt"/>
<path d="M1250.5,1236 L1252,1236 L1253.5,1236 L1255,1236 L1256.5,1236 L1258,1236 L1259.5,1236 L1261,1236 L1262.5,1236 L1264,1236 L1265.5,1236.03 L1267,1236.29 L1268.5,1236.77 L1270,1237.35 L1271.5,1238.28 L1273,1239.6 L1274.5,1241.09 L1276,1242.82 L1277.5,1244.81 L1279,1246.95 L1280.5,1249.21 L1282,1251.64 L1283.5,1254.26 L1285,1257.09 L1286.5,1260.21 L1288,1263.58 L1289.5,1267.11 L1291,1270.84 L1292.5,1274.84 L1294,1278.98 L1295.5,1283.13 L1297,1287.36 L1298.5,1291.66 L1300,1295.94 L1301.5,1300.09 L1303,1304.11 L1304.5,1308.08 L1306,1312.09 L1307.5,1316.21 L1309,1320.41 L1310.5,1324.62 L1312,1328.75 L1313.5,1332.78 L1315,1336.76 L1316.5,1340.71 L1318,1344.67 L1319.5,1348.64 L1321,1352.6 L1322.5,1356.53 L1324,1360.41 L1325.5,1364.25 L1327,1368.05 L1328.5,1371.79 L1330,1375.49 L1331.5,1379.13 L1333,1382.7 L1334.5,1386.21 L1336,1389.65 L1337.5,1393.02 L1339,1396.32 L1340.5,1399.54 L1342,1402.7 L1343.5,1405.8 L1345,1408.84 L1346.5,1411.81 L1348,1414.74 L1349.5,1417.6 L1351,1420.41 L1352.5,1423.17 L1354,1425.88 L1355.5,1428.53 L1357,1431.13 L1358.5,1433.68 L1360,1436.19 L1361.5,1438.64 L1363,1441.05 L1364.5,1443.41 L1366,1445.73 L1367.5,1448 L1369,1450.23 L1370.5,1452.42 L1372,1454.56 L1373.5,1456.66 L1375,1458.73 L1376.5,1460.75 L1378,1462.73 L1379.5,1464.68 L1381,1466.59 L1382.5,1468.46 L1384,1470.3 L1385.5,1472.1 L1387,1473.87 L1388.5,1475.6 L1390,1477.3 L1391.5,1478.97 L1393,1480.6 L1394.5,1482.21 L1396,1483.78 L1397.5,1485.32 L1399,1486.84 L1400.5,1488.32 L1402,1489.78 L1403.5,1491.2 L1405,1492.61 L1406.5,1493.98 L1408,1495.33 L1409.5,1496.65 L1411,1497.95 L1412.5,1499.22 L1414,1500.46 L1415.5,1501.69 L1417,1502.89 L1418.5,1504.06 L1420,1505.22 L1421.5,1506.35 L1423,1507.46 L1424.5,1508.55 L1426,1509.62 L1427.5,1510.67 L1429,1511.69 L1430.5,1512.7 L1432,1513.69 L1433.5,1514.66 L1435,1515.61 L1436.5,1516.55 L1438,1517.46 L1439.5,1518.36 L1441,1519.24 L1442.5,1520.1 L1444,1520.95 L1445.5,1521.78 L1447,1522.6 L1448.5,1523.39 L1450,1524.18 L1451.5,1524.95 L1453,1525.7 L1454.5,1526.44 L1456,1527.17 L1457.5,1527.88 L1459,1528.58 L1460.5,1529.26 L1462,1529.93 L1463.5,1530.59 L1465,1531.24 L1466.5,1531.87 L1468,1532.49 L1469.5,1533.1 L1471,1533.7 L1472.5,1534.29 L1474,1534.86 L1475.5,1535.43 L1477,1535.98 L1478.5,1536.52 L1480,1537.05 L1481.5,1537.58 L1483,1538.09 L1484.5,1538.59 L1486,1539.08 L1487.5,1539.57 L1489,1540.04 L1490.5,1540.51 L1492,1540.96 L1493.5,1541.41 L1495,1541.85 L1496.5,1542.28 L1498,1542.7 L1499.5,1543.11 L1501,1543.52 L1502.5,1543.92 L1504,1544.31 L1505.5,1544.69 L1507,1545.07 L1508.5,1545.44 L1510,1545.8 L1511.5,1546.15 L1513,1546.5 L1514.5,1546.84 L1516,1547.18 L1517.5,1547.5 L1519,1547.83 L1520.5,1548.14 L1522,1548.45 L1523.5,1548.75 L1525,1549.05 L1526.5,1549.34 L1528,1549.63 L1529.5,1549.91 L1531,1550.19 L1532.5,1550.46 L1534,1550.72 L1535.5,1550.98 L1537,1551.24 L1538.5,1551.49 L1540,1551.73 L1541.5,1551.98 L1543,1552.21 L1544.5,1552.44 L1546,1552.67 L1547.5,1552.89 L1549,1553.11 L1550.5,1553.33 L1552,1553.54 L1553.5,1553.74 L1555,1553.95 L1556.5,1554.14 L1558,1554.34 L1559.5,1554.53 L1561,1554.72 L1562.5,1554.9 L1564,1555.08 L1565.5,1555.26 L1567,1555.43 L1568.5,1555.6 L1570,1555.77 L1571.5,1555.93 L1573,1556.09 L1574.5,1556.25 L1576,1556.4 L1577.5,1556.55 L1579,1556.7 L1580.5,1556.85 L1582,1556.99 L1583.5,1557.13 L1585,1557.27 L1586.5,1557.4 L1588,1557.54 L1589.5,1557.66 L1591,1557.79 L1592.5,1557.92 L1594,1558.04 L1595.5,1558.16 L1597,1558.28 L1598.5,1558.39 L1600,1558.51 L1601.5,1558.62 L1603,1558.73 L1604.5,1558.83 L1606,1558.94 L1607.5,1559.04 L1609,1559.14 L1610.5,1559.24 L1612,1559.34 L1613.5,1559.43 L1615,1559.52 L1616.5,1559.62 L1618,1559.71 L1619.5,1559.79 L1621,1559.88 L1622.5,1559.97 L1624,1560.05 L1625.5,1560.13 L1627,1560.21 L1628.5,1560.29 L1630,1560.36 L1631.5,1560.44 L1633,1560.51 L1634.5,1560.59 L1636,1560.66 L1637.5,1560.73 L1639,1560.8 L1640.5,1560.86 L1642,1560.93 L1643.5,1560.99 L1645,1561.06 L1646.5,1561.12 L1648,1561.18 L1649.5,1561.24 L1651,1561.3 L1652.5,1561.36 L1654,1561.41 L1655.5,1561.47 L1657,1561.52 L1658.5,1561.58 L1660,1561.63 L1661.5,1561.68 L1663,1561.73 L1664.5,1561.78 L1666,1561.83 L1667.5,1561.87 L1669,1561.92 L1670.5,1561.97 L1672,1562.01 L1673.5,1562.05 L1675,1562.1 L1676.5,1562.14 L1678,1562.18 L1679.5,1562.22 L1681,1562.26 L1682.5,1562.3 L1684,1562.34 L1685.5,1562.38 L1687,1562.41 L1688.5,1562.45 L1690,1562.49 L1691.5,1562.52 L1693,1562.55 L1694.5,1562.59 L1696,1562.62 L1697.5,1562.65 L1699,1562.68 L1700,1562.7 L1710,1562.9 L1720,1563.07 L1730,1563.22 L1740,1563.35 L1750,1563.46 L1760,1563.56 L1770,1563.65 L1780,1563.73 L1790,1563.8 L1800,1563.86 L1810,1563.91 L1820,1563.96 L1830,1564 L1840,1564.04 L1850,1564.07 L1860,1564.1 L1870,1564.12 L1880,1564.14 L1890,1564.16 L1900,1564.18 L1910,1564.19 L1920,1564.21 L1930,1564.22 L1940,1564.23 L1950,1564.24 L1960,1564.24 L1970,1564.25 L1980,1564.26 L1990,1564.26 L2000,1564.27 L2010,1564.27 L2020,1564.27 L2030,1564.28 L2040,1564.28 L2050,1564.28 L2056.6,1564.28" fill="none" stroke="#f08050" stroke-width="3.2" stroke-linejoin="round" stroke-linecap="butt"/>
<path d="M1250.5,1121 L1252,1121 L1253.5,1121 L1255,1121 L1256.5,1121 L1258,1121 L1259.5,1121 L1261,1121 L1262.5,1121 L1264,1121 L1265.5,1121.04 L1267,1121.4 L1268.5,1122.04 L1270,1122.83 L1271.5,1124.08 L1273,1125.86 L1274.5,1127.87 L1276,1130.2 L1277.5,1132.9 L1279,1135.78 L1280.5,1138.83 L1282,1142.11 L1283.5,1145.65 L1285,1149.48 L1286.5,1153.7 L1288,1158.23 L1289.5,1163.01 L1291,1168.05 L1292.5,1173.44 L1294,1179.03 L1295.5,1184.64 L1297,1190.35 L1298.5,1196.16 L1300,1201.94 L1301.5,1207.54 L1303,1212.97 L1304.5,1218.33 L1306,1223.75 L1307.5,1229.31 L1309,1234.98 L1310.5,1240.66 L1312,1246.24 L1313.5,1251.68 L1315,1257.05 L1316.5,1262.39 L1318,1267.74 L1319.5,1273.1 L1321,1278.44 L1322.5,1283.74 L1324,1288.99 L1325.5,1294.17 L1327,1299.3 L1328.5,1304.36 L1330,1309.35 L1331.5,1314.26 L1333,1319.09 L1334.5,1323.83 L1336,1328.48 L1337.5,1333.03 L1339,1337.48 L1340.5,1341.83 L1342,1346.09 L1343.5,1350.28 L1345,1354.38 L1346.5,1358.4 L1348,1362.35 L1349.5,1366.22 L1351,1370.01 L1352.5,1373.74 L1354,1377.39 L1355.5,1380.97 L1357,1384.48 L1358.5,1387.93 L1360,1391.31 L1361.5,1394.62 L1363,1397.88 L1364.5,1401.07 L1366,1404.19 L1367.5,1407.26 L1369,1410.27 L1370.5,1413.22 L1372,1416.12 L1373.5,1418.96 L1375,1421.74 L1376.5,1424.48 L1378,1427.16 L1379.5,1429.78 L1381,1432.36 L1382.5,1434.89 L1384,1437.37 L1385.5,1439.8 L1387,1442.19 L1388.5,1444.53 L1390,1446.82 L1391.5,1449.07 L1393,1451.28 L1394.5,1453.45 L1396,1455.57 L1397.5,1457.66 L1399,1459.7 L1400.5,1461.71 L1402,1463.67 L1403.5,1465.6 L1405,1467.49 L1406.5,1469.35 L1408,1471.17 L1409.5,1472.95 L1411,1474.7 L1412.5,1476.42 L1414,1478.1 L1415.5,1479.75 L1417,1481.37 L1418.5,1482.96 L1420,1484.52 L1421.5,1486.05 L1423,1487.55 L1424.5,1489.02 L1426,1490.46 L1427.5,1491.88 L1429,1493.27 L1430.5,1494.63 L1432,1495.96 L1433.5,1497.27 L1435,1498.56 L1436.5,1499.82 L1438,1501.05 L1439.5,1502.27 L1441,1503.45 L1442.5,1504.62 L1444,1505.76 L1445.5,1506.89 L1447,1507.99 L1448.5,1509.07 L1450,1510.12 L1451.5,1511.16 L1453,1512.18 L1454.5,1513.18 L1456,1514.16 L1457.5,1515.12 L1459,1516.06 L1460.5,1516.99 L1462,1517.89 L1463.5,1518.78 L1465,1519.66 L1466.5,1520.51 L1468,1521.35 L1469.5,1522.17 L1471,1522.98 L1472.5,1523.77 L1474,1524.55 L1475.5,1525.31 L1477,1526.06 L1478.5,1526.79 L1480,1527.51 L1481.5,1528.21 L1483,1528.91 L1484.5,1529.58 L1486,1530.25 L1487.5,1530.9 L1489,1531.54 L1490.5,1532.17 L1492,1532.79 L1493.5,1533.39 L1495,1533.98 L1496.5,1534.56 L1498,1535.13 L1499.5,1535.69 L1501,1536.24 L1502.5,1536.78 L1504,1537.31 L1505.5,1537.82 L1507,1538.33 L1508.5,1538.83 L1510,1539.32 L1511.5,1539.79 L1513,1540.26 L1514.5,1540.73 L1516,1541.18 L1517.5,1541.62 L1519,1542.05 L1520.5,1542.48 L1522,1542.9 L1523.5,1543.31 L1525,1543.71 L1526.5,1544.11 L1528,1544.49 L1529.5,1544.87 L1531,1545.24 L1532.5,1545.61 L1534,1545.97 L1535.5,1546.32 L1537,1546.66 L1538.5,1547 L1540,1547.33 L1541.5,1547.66 L1543,1547.98 L1544.5,1548.29 L1546,1548.6 L1547.5,1548.9 L1549,1549.19 L1550.5,1549.48 L1552,1549.77 L1553.5,1550.05 L1555,1550.32 L1556.5,1550.59 L1558,1550.85 L1559.5,1551.11 L1561,1551.36 L1562.5,1551.61 L1564,1551.85 L1565.5,1552.09 L1567,1552.32 L1568.5,1552.55 L1570,1552.78 L1571.5,1553 L1573,1553.22 L1574.5,1553.43 L1576,1553.64 L1577.5,1553.84 L1579,1554.04 L1580.5,1554.24 L1582,1554.43 L1583.5,1554.62 L1585,1554.81 L1586.5,1554.99 L1588,1555.17 L1589.5,1555.34 L1591,1555.51 L1592.5,1555.68 L1594,1555.85 L1595.5,1556.01 L1597,1556.17 L1598.5,1556.32 L1600,1556.48 L1601.5,1556.63 L1603,1556.77 L1604.5,1556.92 L1606,1557.06 L1607.5,1557.2 L1609,1557.33 L1610.5,1557.47 L1612,1557.6 L1613.5,1557.73 L1615,1557.85 L1616.5,1557.98 L1618,1558.1 L1619.5,1558.22 L1621,1558.33 L1622.5,1558.45 L1624,1558.56 L1625.5,1558.67 L1627,1558.78 L1628.5,1558.88 L1630,1558.99 L1631.5,1559.09 L1633,1559.19 L1634.5,1559.29 L1636,1559.38 L1637.5,1559.48 L1639,1559.57 L1640.5,1559.66 L1642,1559.75 L1643.5,1559.84 L1645,1559.92 L1646.5,1560.01 L1648,1560.09 L1649.5,1560.17 L1651,1560.25 L1652.5,1560.33 L1654,1560.4 L1655.5,1560.48 L1657,1560.55 L1658.5,1560.62 L1660,1560.69 L1661.5,1560.76 L1663,1560.83 L1664.5,1560.9 L1666,1560.96 L1667.5,1561.02 L1669,1561.09 L1670.5,1561.15 L1672,1561.21 L1673.5,1561.27 L1675,1561.33 L1676.5,1561.38 L1678,1561.44 L1679.5,1561.49 L1681,1561.55 L1682.5,1561.6 L1684,1561.65 L1685.5,1561.7 L1687,1561.75 L1688.5,1561.8 L1690,1561.85 L1691.5,1561.9 L1693,1561.94 L1694.5,1561.99 L1696,1562.03 L1697.5,1562.08 L1699,1562.12 L1700,1562.15 L1710,1562.41 L1720,1562.64 L1730,1562.84 L1740,1563.01 L1750,1563.17 L1760,1563.31 L1770,1563.43 L1780,1563.53 L1790,1563.63 L1800,1563.71 L1810,1563.78 L1820,1563.84 L1830,1563.9 L1840,1563.95 L1850,1563.99 L1860,1564.03 L1870,1564.06 L1880,1564.09 L1890,1564.11 L1900,1564.14 L1910,1564.16 L1920,1564.17 L1930,1564.19 L1940,1564.2 L1950,1564.21 L1960,1564.22 L1970,1564.23 L1980,1564.24 L1990,1564.25 L2000,1564.26 L2010,1564.26 L2020,1564.27 L2030,1564.27 L2040,1564.27 L2050,1564.28 L2056.6,1564.28" fill="none" stroke="#a80c28" stroke-width="3.2" stroke-linejoin="round" stroke-linecap="butt"/>
</svg>
</body>
</html>
